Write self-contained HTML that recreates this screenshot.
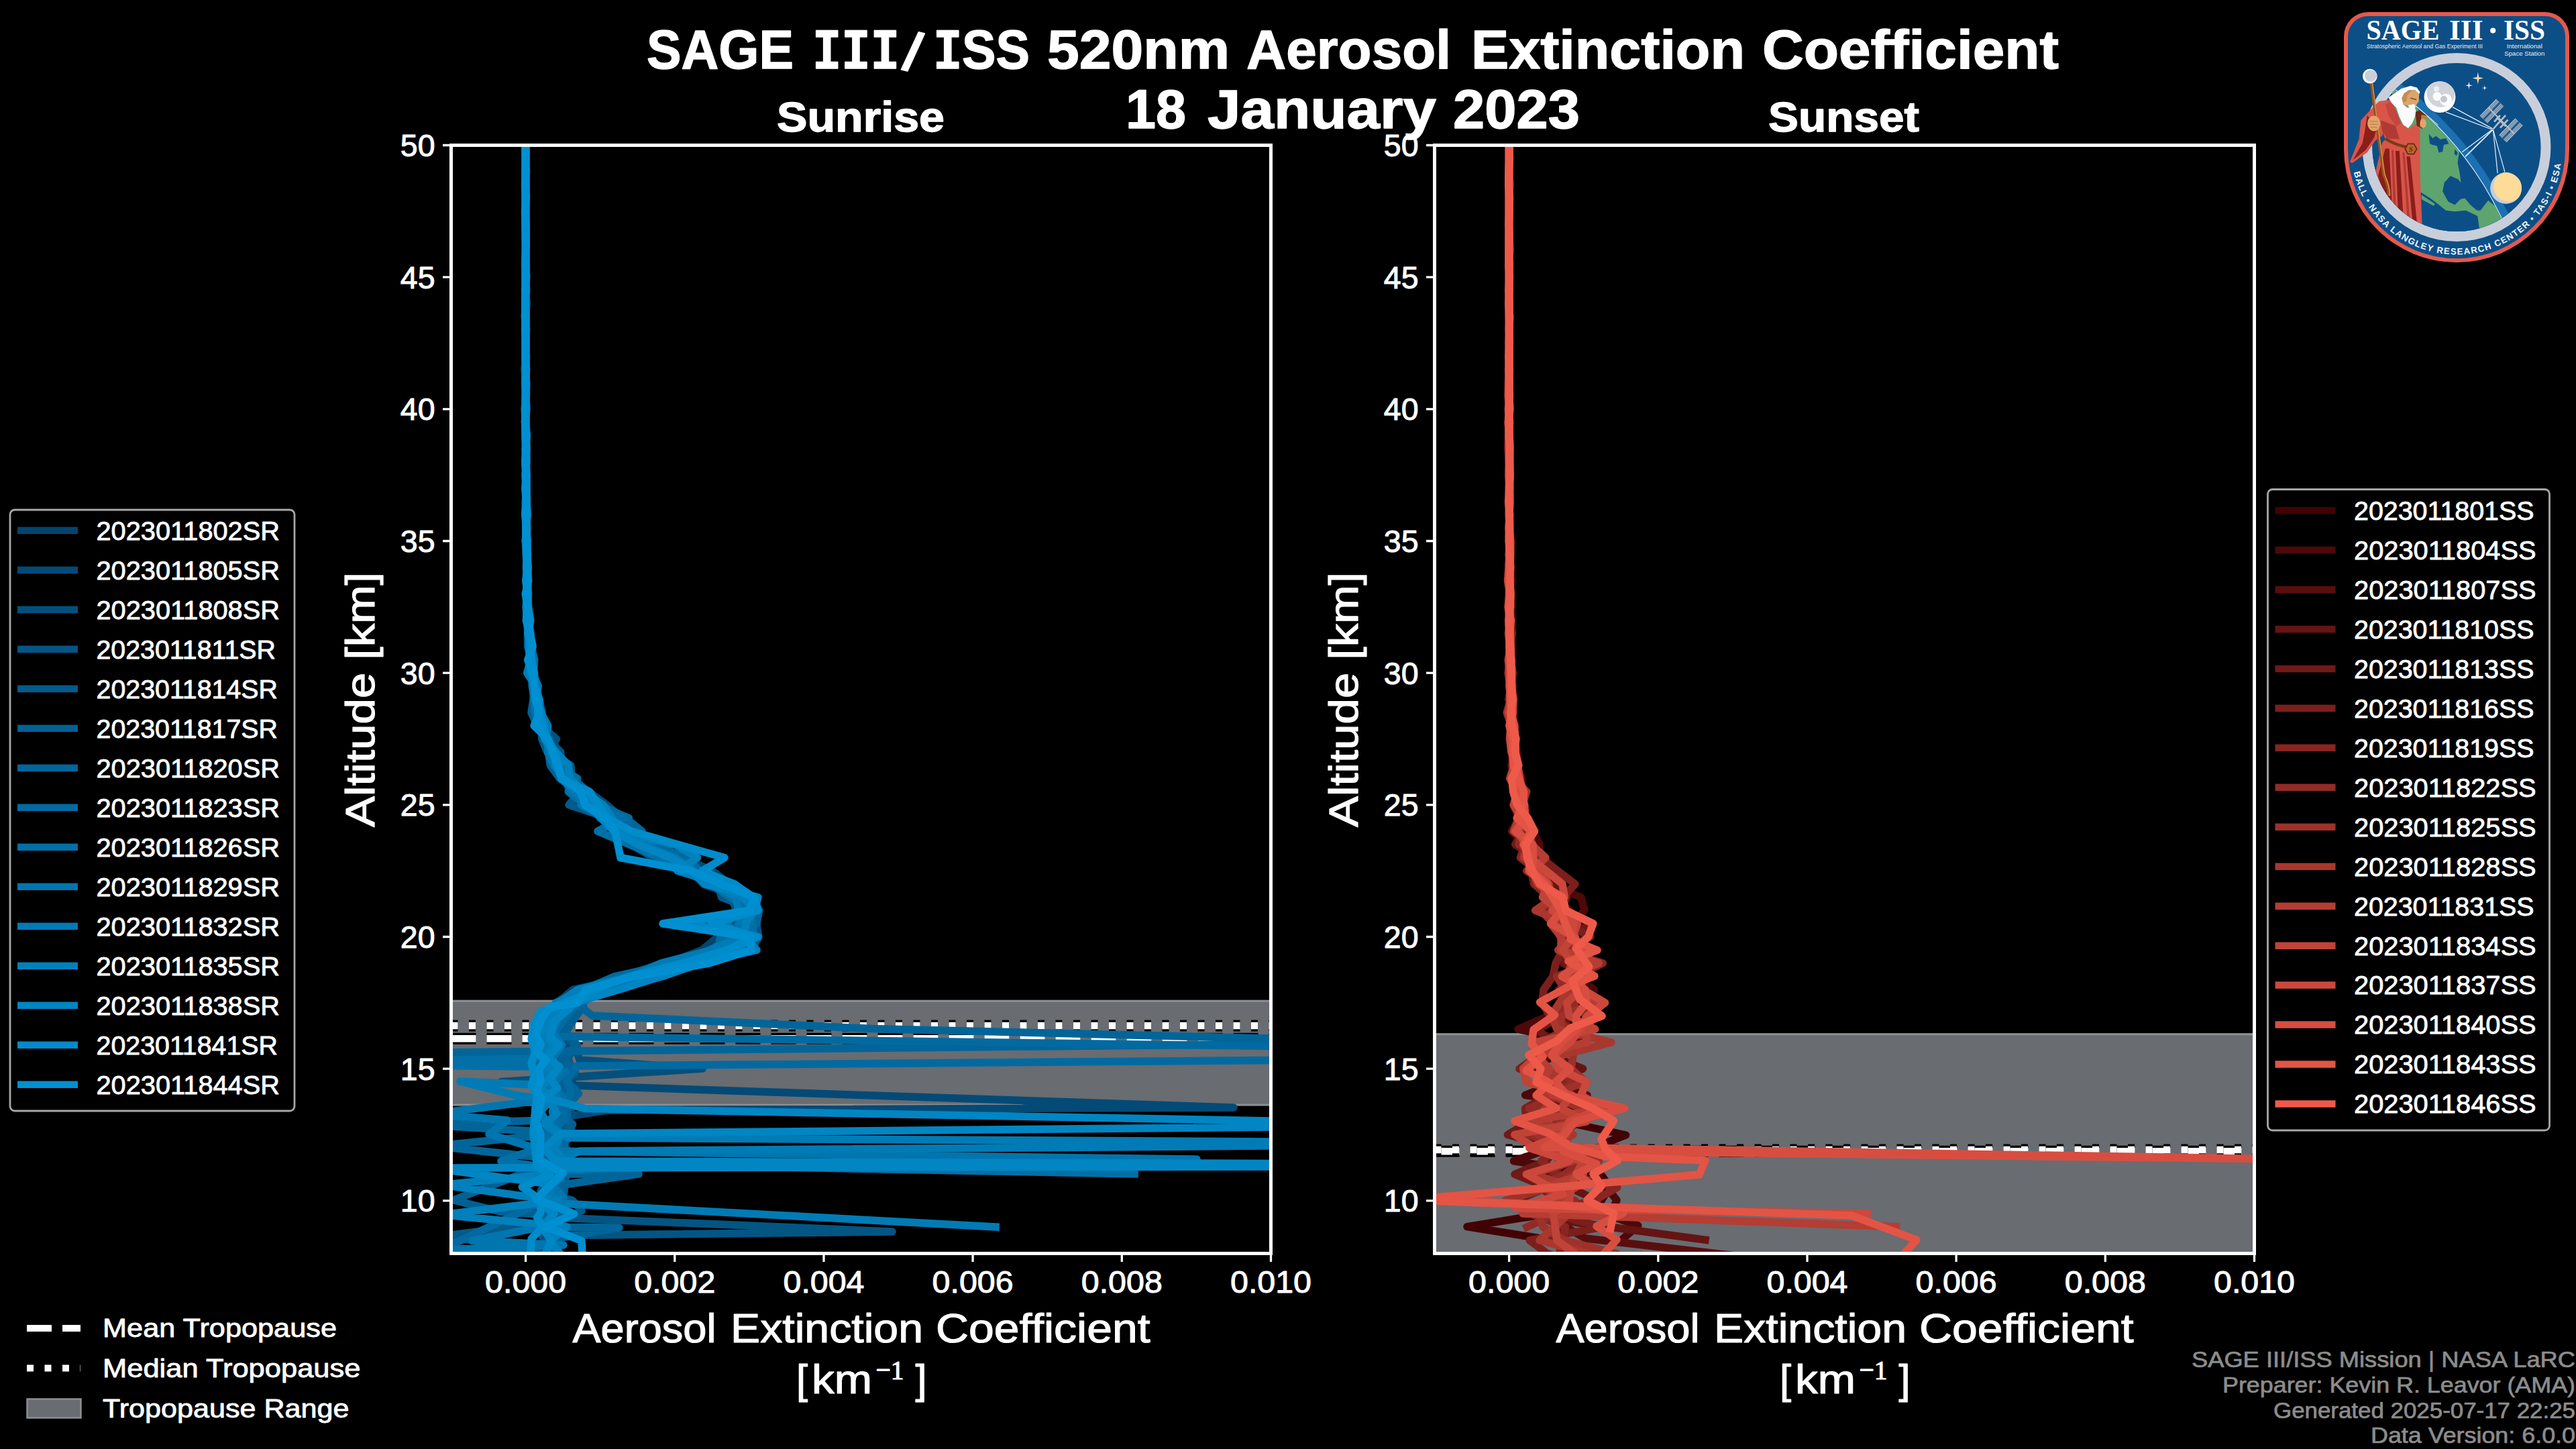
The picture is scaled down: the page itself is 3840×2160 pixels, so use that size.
<!DOCTYPE html>
<html lang="en"><head><meta charset="utf-8"><title>SAGE III/ISS 520nm Aerosol Extinction Coefficient</title>
<style>html,body{margin:0;padding:0;background:#000;overflow:hidden}svg{display:block}</style></head><body>
<svg width="3840" height="2160" viewBox="0 0 3840 2160" font-family='"Liberation Sans", sans-serif' fill="#fff">
<rect width="3840" height="2160" fill="#000"/>
<defs>
<clipPath id="cl"><rect x="672.5" y="216.5" width="1222.0" height="1652.0"/></clipPath>
<clipPath id="cr"><rect x="2138.5" y="216.5" width="1222.0" height="1652.0"/></clipPath>
</defs>
<g clip-path="url(#cl)">
<rect x="667.5" y="1492.1" width="1232.0" height="155.0" fill="#696c71" stroke="#8d8f93" stroke-width="3"/>
<path d="M672.5 1548.3H1894.5" stroke="#000" stroke-width="17" stroke-dasharray="37 16" fill="none"/>
<path d="M672.5 1548.3H1894.5" stroke="#fff" stroke-width="10.5" stroke-dasharray="37 16" fill="none"/>
<path d="M672.5 1529.1H1894.5" stroke="#000" stroke-width="17" stroke-dasharray="10 16.5" fill="none"/>
<path d="M672.5 1529.1H1894.5" stroke="#fff" stroke-width="10.5" stroke-dasharray="10 16.5" fill="none"/>
<path d="M783.5 196.8 L783.5 216.5 L783.3 236.2 L783.5 255.8 L784.0 275.5 L783.8 295.2 L784.0 314.8 L783.7 334.5 L783.8 354.2 L783.7 373.8 L782.8 393.5 L784.0 413.2 L783.8 432.8 L783.8 452.5 L782.7 472.2 L782.6 491.8 L783.1 511.5 L783.3 531.2 L783.8 550.8 L783.6 570.5 L783.9 590.2 L783.2 609.8 L783.9 629.5 L784.1 649.2 L783.5 668.8 L785.2 688.5 L784.5 708.2 L785.1 727.8 L783.9 747.5 L783.9 767.2 L784.3 786.8 L784.6 806.5 L785.6 826.2 L785.6 845.8 L785.4 865.5 L785.1 885.2 L785.9 904.8 L788.7 924.5 L787.5 944.2 L790.7 963.8 L792.7 983.5 L790.2 1003.2 L796.4 1022.8 L803.1 1042.5 L795.3 1062.2 L805.6 1081.8 L813.3 1101.5 L817.9 1121.2 L837.0 1140.8 L844.7 1160.5 L847.9 1180.2 L889.4 1199.8 L911.4 1219.5 L940.8 1239.2 L981.7 1258.8 L998.3 1278.5 L1031.0 1298.2 L1048.4 1317.8 L1100.7 1337.5 L1100.1 1357.2 L1094.3 1376.8 L1070.2 1396.5 L1046.6 1416.2 L995.1 1435.8 L947.8 1455.5 L854.6 1475.2 L830.3 1494.8 L844.0 1500.0 L835.3 1519.0 L834.8 1539.0 L854.2 1558.0 L840.5 1578.0 L843.8 1598.0 L829.2 1617.0 L851.0 1637.0 L830.1 1657.0 L841.8 1676.0 L836.9 1696.0 L842.6 1716.0" stroke="#04456f" stroke-width="11.5" fill="none" stroke-linejoin="round" stroke-linecap="square"/>
<path d="M783.7 196.8 L782.9 216.5 L782.7 236.2 L783.7 255.8 L783.3 275.5 L783.1 295.2 L784.0 314.8 L784.1 334.5 L783.7 354.2 L783.7 373.8 L783.8 393.5 L784.4 413.2 L783.9 432.8 L783.9 452.5 L783.9 472.2 L782.7 491.8 L784.3 511.5 L784.1 531.2 L783.9 550.8 L782.4 570.5 L783.2 590.2 L784.2 609.8 L782.6 629.5 L783.7 649.2 L784.7 668.8 L783.2 688.5 L785.3 708.2 L784.7 727.8 L784.3 747.5 L784.8 767.2 L785.1 786.8 L785.0 806.5 L786.2 826.2 L785.1 845.8 L785.6 865.5 L787.5 885.2 L786.8 904.8 L786.6 924.5 L790.8 944.2 L793.4 963.8 L791.9 983.5 L791.8 1003.2 L797.4 1022.8 L800.7 1042.5 L803.9 1062.2 L816.6 1081.8 L812.7 1101.5 L835.6 1121.2 L830.0 1140.8 L847.0 1160.5 L877.6 1180.2 L904.7 1199.8 L927.0 1219.5 L949.7 1239.2 L980.6 1258.8 L1017.1 1278.5 L1062.1 1298.2 L1087.5 1317.8 L1118.0 1337.5 L1125.9 1357.2 L1112.4 1376.8 L1105.7 1396.5 L1064.4 1416.2 L1016.5 1435.8 L924.8 1455.5 L865.6 1475.2 L837.2 1494.8 L848.8 1500.0 L837.8 1519.0 L839.5 1539.0 L848.5 1558.0 L842.3 1578.0 L855.1 1600.0 L852.0 1618.0 L1839.0 1651.0 L904.6 1655.0 L846.8 1664.0 L851.5 1684.0 L841.8 1703.0 L826.0 1723.0 L810.0 1742.0 L822.0 1762.0 L806.0 1782.0" stroke="#044a76" stroke-width="11.5" fill="none" stroke-linejoin="round" stroke-linecap="square"/>
<path d="M783.5 196.8 L783.7 216.5 L784.3 236.2 L782.6 255.8 L783.2 275.5 L783.7 295.2 L783.8 314.8 L783.7 334.5 L783.4 354.2 L783.9 373.8 L783.7 393.5 L783.3 413.2 L784.8 432.8 L783.8 452.5 L783.3 472.2 L783.5 491.8 L783.5 511.5 L783.6 531.2 L782.0 550.8 L783.3 570.5 L784.2 590.2 L782.9 609.8 L783.7 629.5 L784.5 649.2 L784.5 668.8 L785.1 688.5 L783.0 708.2 L784.0 727.8 L784.1 747.5 L784.9 767.2 L785.4 786.8 L782.7 806.5 L786.0 826.2 L784.3 845.8 L786.5 865.5 L784.6 885.2 L786.8 904.8 L788.9 924.5 L788.7 944.2 L790.8 963.8 L793.7 983.5 L794.4 1003.2 L796.5 1022.8 L804.3 1042.5 L807.5 1062.2 L806.7 1081.8 L829.5 1101.5 L817.5 1121.2 L841.8 1140.8 L845.5 1160.5 L866.3 1180.2 L891.7 1199.8 L909.9 1219.5 L941.8 1239.2 L941.5 1258.8 L973.4 1278.5 L1046.1 1298.2 L1060.6 1317.8 L1089.7 1337.5 L1098.0 1357.2 L1118.2 1376.8 L1100.2 1396.5 L1079.1 1416.2 L987.8 1435.8 L929.0 1455.5 L863.1 1475.2 L849.8 1494.8 L851.9 1500.0 L837.7 1519.0 L833.7 1539.0 L856.8 1558.0 L864.1 1580.0 L1047.0 1593.0 L747.0 1612.5 L860.0 1622.0 L844.9 1642.0 L853.0 1661.0 L839.5 1681.0 L845.1 1700.0 L808.0 1720.0 L820.0 1740.0 L806.0 1759.0 L818.0 1779.0 L800.0 1799.0 L812.0 1818.0" stroke="#03507d" stroke-width="11.5" fill="none" stroke-linejoin="round" stroke-linecap="square"/>
<path d="M784.1 196.8 L783.9 216.5 L783.5 236.2 L782.8 255.8 L784.1 275.5 L783.6 295.2 L783.3 314.8 L783.8 334.5 L783.8 354.2 L784.3 373.8 L783.1 393.5 L784.1 413.2 L784.3 432.8 L784.3 452.5 L783.5 472.2 L783.2 491.8 L784.2 511.5 L783.7 531.2 L783.7 550.8 L784.4 570.5 L783.4 590.2 L782.2 609.8 L783.5 629.5 L782.6 649.2 L784.5 668.8 L784.3 688.5 L783.7 708.2 L784.3 727.8 L785.0 747.5 L784.6 767.2 L785.6 786.8 L784.7 806.5 L786.0 826.2 L786.7 845.8 L787.4 865.5 L785.6 885.2 L787.7 904.8 L784.8 924.5 L787.4 944.2 L787.5 963.8 L794.4 983.5 L791.4 1003.2 L797.0 1022.8 L799.5 1042.5 L803.9 1062.2 L805.8 1081.8 L816.9 1101.5 L835.8 1121.2 L836.6 1140.8 L853.3 1160.5 L876.5 1180.2 L883.8 1199.8 L894.4 1219.5 L928.3 1239.2 L986.5 1258.8 L976.6 1278.5 L1035.0 1298.2 L1095.3 1317.8 L1121.5 1337.5 L1132.0 1357.2 L1127.6 1376.8 L1131.0 1396.5 L1120.0 1416.2 L995.8 1435.8 L932.3 1455.5 L893.2 1475.2 L842.2 1494.8 L856.0 1500.0 L841.4 1519.0 L842.7 1539.0 L860.6 1558.0 L835.3 1578.0 L847.7 1598.0 L832.7 1617.0 L851.7 1637.0 L831.3 1657.0 L845.6 1676.0 L827.7 1696.0 L842.2 1716.0 L808.0 1735.0 L820.0 1755.0 L806.0 1775.0 L818.0 1794.0 L804.0 1814.0 L1330.0 1836.0 L808.0 1842.0 L816.0 1860.0" stroke="#035584" stroke-width="11.5" fill="none" stroke-linejoin="round" stroke-linecap="square"/>
<path d="M783.1 196.8 L783.5 216.5 L783.2 236.2 L783.7 255.8 L782.7 275.5 L783.7 295.2 L783.3 314.8 L782.7 334.5 L783.9 354.2 L783.5 373.8 L782.5 393.5 L783.2 413.2 L783.7 432.8 L783.4 452.5 L784.0 472.2 L784.0 491.8 L784.0 511.5 L783.8 531.2 L784.4 550.8 L784.0 570.5 L783.9 590.2 L782.3 609.8 L784.3 629.5 L784.7 649.2 L783.7 668.8 L783.7 688.5 L785.5 708.2 L783.0 727.8 L784.7 747.5 L786.3 767.2 L783.9 786.8 L785.2 806.5 L786.5 826.2 L785.3 845.8 L786.3 865.5 L787.1 885.2 L785.4 904.8 L786.7 924.5 L788.7 944.2 L791.3 963.8 L791.5 983.5 L792.8 1003.2 L793.1 1022.8 L797.5 1042.5 L805.6 1062.2 L806.6 1081.8 L807.8 1101.5 L815.8 1121.2 L850.8 1140.8 L852.1 1160.5 L865.3 1180.2 L848.1 1199.8 L907.2 1219.5 L929.7 1239.2 L980.7 1258.8 L994.7 1278.5 L1024.1 1298.2 L1070.2 1317.8 L1075.6 1337.5 L1124.7 1357.2 L1116.3 1376.8 L1093.3 1396.5 L1099.2 1416.2 L1054.9 1435.8 L939.2 1455.5 L887.9 1475.2 L856.7 1494.8 L860.7 1500.0 L845.7 1519.0 L841.4 1539.0 L856.8 1558.0 L846.7 1578.0 L854.0 1598.0 L840.9 1617.0 L852.1 1637.0 L839.7 1657.0 L847.9 1676.0 L825.8 1696.0 L848.1 1716.0 L840.0 1785.0 L854.0 1790.0 L867.0 1805.0 L836.0 1820.0 L672.0 1841.0 L640.0 1843.0 L672.0 1846.0 L810.0 1856.0" stroke="#035a8b" stroke-width="11.5" fill="none" stroke-linejoin="round" stroke-linecap="square"/>
<path d="M783.7 196.8 L784.3 216.5 L784.0 236.2 L783.1 255.8 L783.1 275.5 L784.3 295.2 L784.0 314.8 L784.4 334.5 L784.0 354.2 L783.2 373.8 L783.7 393.5 L782.5 413.2 L783.2 432.8 L783.6 452.5 L783.9 472.2 L783.2 491.8 L783.5 511.5 L783.9 531.2 L783.8 550.8 L784.0 570.5 L783.7 590.2 L783.4 609.8 L784.2 629.5 L783.8 649.2 L783.3 668.8 L783.6 688.5 L784.1 708.2 L784.1 727.8 L784.4 747.5 L784.4 767.2 L784.7 786.8 L784.6 806.5 L784.0 826.2 L785.7 845.8 L786.7 865.5 L786.5 885.2 L786.2 904.8 L787.4 924.5 L786.7 944.2 L786.7 963.8 L791.5 983.5 L790.9 1003.2 L797.5 1022.8 L795.0 1042.5 L792.0 1062.2 L800.9 1081.8 L819.8 1101.5 L817.5 1121.2 L820.3 1140.8 L834.6 1160.5 L862.2 1180.2 L879.9 1199.8 L898.8 1219.5 L940.7 1239.2 L961.6 1258.8 L982.8 1278.5 L1029.0 1298.2 L1079.6 1317.8 L1102.6 1337.5 L1120.8 1357.2 L1098.9 1376.8 L1099.1 1396.5 L1091.1 1416.2 L1030.3 1435.8 L976.5 1455.5 L906.0 1475.2 L865.0 1494.8 L869.5 1500.0 L855.8 1519.0 L843.3 1539.0 L860.1 1558.0 L838.0 1578.0 L857.5 1598.0 L838.4 1617.0 L848.9 1637.0 L830.3 1657.0 L853.7 1676.0 L839.4 1696.0 L842.6 1716.0 L816.0 1735.0 L676.0 1789.0 L745.0 1806.0 L830.0 1812.0 L816.0 1832.0 L828.0 1851.0 L812.0 1870.0" stroke="#036092" stroke-width="11.5" fill="none" stroke-linejoin="round" stroke-linecap="square"/>
<path d="M784.0 196.8 L783.5 216.5 L783.6 236.2 L784.6 255.8 L783.5 275.5 L783.9 295.2 L784.0 314.8 L783.6 334.5 L783.1 354.2 L783.7 373.8 L783.8 393.5 L784.1 413.2 L784.0 432.8 L783.6 452.5 L784.0 472.2 L783.9 491.8 L783.7 511.5 L783.6 531.2 L783.4 550.8 L784.0 570.5 L782.9 590.2 L783.2 609.8 L783.7 629.5 L782.9 649.2 L783.7 668.8 L782.7 688.5 L783.7 708.2 L784.7 727.8 L784.8 747.5 L784.5 767.2 L784.5 786.8 L783.7 806.5 L786.6 826.2 L786.0 845.8 L787.0 865.5 L785.4 885.2 L786.5 904.8 L785.0 924.5 L790.3 944.2 L792.4 963.8 L788.9 983.5 L794.5 1003.2 L799.1 1022.8 L795.3 1042.5 L797.8 1062.2 L804.6 1081.8 L813.5 1101.5 L818.1 1121.2 L838.2 1140.8 L853.3 1160.5 L875.6 1180.2 L897.0 1199.8 L932.6 1219.5 L957.2 1239.2 L954.8 1258.8 L1002.3 1278.5 L1034.9 1298.2 L1075.2 1317.8 L1118.0 1337.5 L1130.0 1357.2 L1128.1 1376.8 L1087.6 1396.5 L1060.3 1416.2 L1013.0 1435.8 L935.4 1455.5 L877.9 1475.2 L846.0 1494.8 L864.8 1500.0 L882.9 1514.0 L1300.0 1533.5 L2135.0 1554.0 L540.0 1570.0 L859.0 1590.0 L842.7 1610.0 L862.4 1630.0 L845.7 1649.0 L845.7 1669.0 L672.0 1674.0 L620.0 1676.0 L672.0 1679.0 L840.6 1689.0 L672.0 1706.0 L620.0 1708.0 L672.0 1711.0 L830.0 1728.0 L781.0 1750.0 L952.0 1750.0 L840.0 1766.0 L824.0 1786.0 L836.0 1806.0 L792.0 1829.0 L923.0 1830.0 L830.0 1846.0 L826.0 1870.0" stroke="#026599" stroke-width="11.5" fill="none" stroke-linejoin="round" stroke-linecap="square"/>
<path d="M783.3 196.8 L783.6 216.5 L783.3 236.2 L783.5 255.8 L782.5 275.5 L783.2 295.2 L783.6 314.8 L782.9 334.5 L783.7 354.2 L783.7 373.8 L782.9 393.5 L783.5 413.2 L783.4 432.8 L783.8 452.5 L783.9 472.2 L783.6 491.8 L783.1 511.5 L783.5 531.2 L783.6 550.8 L784.0 570.5 L783.8 590.2 L783.2 609.8 L782.9 629.5 L783.6 649.2 L783.5 668.8 L783.3 688.5 L784.1 708.2 L783.9 727.8 L784.5 747.5 L784.9 767.2 L784.3 786.8 L786.6 806.5 L784.9 826.2 L786.4 845.8 L786.0 865.5 L787.5 885.2 L783.8 904.8 L786.6 924.5 L789.5 944.2 L791.7 963.8 L796.9 983.5 L795.2 1003.2 L800.6 1022.8 L802.7 1042.5 L807.7 1062.2 L811.4 1081.8 L815.8 1101.5 L829.2 1121.2 L829.1 1140.8 L860.7 1160.5 L857.9 1180.2 L890.5 1199.8 L937.3 1219.5 L935.0 1239.2 L970.5 1258.8 L1024.7 1278.5 L1042.8 1298.2 L1066.8 1317.8 L1104.6 1337.5 L1112.9 1357.2 L1107.5 1376.8 L1073.9 1396.5 L1070.0 1416.2 L1005.1 1435.8 L916.4 1455.5 L870.4 1475.2 L834.8 1494.8 L856.9 1500.0 L842.5 1519.0 L823.1 1545.0 L1900.0 1559.5 L1990.0 1570.0 L1900.0 1580.5 L860.5 1589.0 L844.7 1608.0 L851.0 1628.0 L838.9 1647.0 L842.6 1667.0 L823.8 1686.0 L842.1 1706.0 L814.0 1726.0 L826.0 1745.0 L810.0 1765.0 L822.0 1785.0 L672.0 1856.0 L640.0 1858.0 L700.0 1862.0 L820.0 1870.0" stroke="#026aa0" stroke-width="11.5" fill="none" stroke-linejoin="round" stroke-linecap="square"/>
<path d="M783.8 196.8 L783.4 216.5 L783.3 236.2 L783.9 255.8 L784.1 275.5 L783.6 295.2 L783.3 314.8 L783.9 334.5 L783.6 354.2 L783.7 373.8 L784.3 393.5 L784.1 413.2 L783.3 432.8 L784.8 452.5 L783.6 472.2 L784.0 491.8 L783.2 511.5 L783.6 531.2 L782.6 550.8 L784.7 570.5 L784.4 590.2 L782.8 609.8 L782.7 629.5 L782.7 649.2 L784.7 668.8 L783.7 688.5 L784.1 708.2 L784.0 727.8 L784.2 747.5 L783.6 767.2 L784.6 786.8 L783.5 806.5 L784.8 826.2 L785.5 845.8 L786.1 865.5 L785.8 885.2 L785.3 904.8 L787.0 924.5 L787.1 944.2 L792.0 963.8 L792.7 983.5 L792.6 1003.2 L793.8 1022.8 L795.8 1042.5 L797.7 1062.2 L803.6 1081.8 L812.1 1101.5 L821.5 1121.2 L832.6 1140.8 L857.5 1160.5 L847.4 1180.2 L872.3 1199.8 L928.1 1219.5 L891.0 1239.2 L938.0 1258.8 L982.4 1278.5 L1018.3 1298.2 L1060.3 1317.8 L1088.5 1337.5 L1119.1 1357.2 L1121.5 1376.8 L1122.5 1396.5 L1070.8 1416.2 L1044.1 1435.8 L988.2 1455.5 L907.5 1475.2 L859.8 1494.8 L842.5 1500.0 L824.4 1519.0 L818.1 1539.0 L831.9 1558.0 L810.5 1578.0 L400.0 1585.5 L793.1 1590.0 L843.0 1597.0 L822.4 1617.0 L840.1 1637.0 L823.4 1657.0 L829.1 1676.0 L814.1 1696.0 L798.8 1713.0 L747.0 1731.0 L812.0 1740.0 L900.0 1735.0 L1691.0 1750.0" stroke="#0270a7" stroke-width="11.5" fill="none" stroke-linejoin="round" stroke-linecap="square"/>
<path d="M783.8 196.8 L783.9 216.5 L783.7 236.2 L783.8 255.8 L783.5 275.5 L783.0 295.2 L783.6 314.8 L783.8 334.5 L783.4 354.2 L783.5 373.8 L783.9 393.5 L783.2 413.2 L783.9 432.8 L784.6 452.5 L783.3 472.2 L783.7 491.8 L783.5 511.5 L784.5 531.2 L783.8 550.8 L784.1 570.5 L783.2 590.2 L783.6 609.8 L783.7 629.5 L782.7 649.2 L784.9 668.8 L784.7 688.5 L782.9 708.2 L784.8 727.8 L784.3 747.5 L784.8 767.2 L784.9 786.8 L783.6 806.5 L784.9 826.2 L786.6 845.8 L785.3 865.5 L785.1 885.2 L784.9 904.8 L785.4 924.5 L789.2 944.2 L793.0 963.8 L792.7 983.5 L794.2 1003.2 L802.3 1022.8 L797.6 1042.5 L800.4 1062.2 L809.5 1081.8 L816.8 1101.5 L816.7 1121.2 L825.1 1140.8 L847.7 1160.5 L864.9 1180.2 L866.2 1199.8 L901.2 1219.5 L920.6 1239.2 L967.7 1258.8 L991.6 1278.5 L1030.1 1298.2 L1063.8 1317.8 L1110.1 1337.5 L1124.2 1357.2 L1101.5 1376.8 L1104.3 1396.5 L1057.4 1416.2 L1011.3 1435.8 L946.9 1455.5 L897.5 1475.2 L842.2 1494.8 L851.3 1500.0 L831.6 1519.0 L823.7 1539.0 L837.7 1558.0 L823.6 1578.0 L832.4 1598.0 L819.5 1617.0 L830.9 1637.0 L672.0 1657.0 L620.0 1660.0 L672.0 1663.0 L756.0 1670.0 L729.0 1690.7 L792.7 1710.0 L823.9 1716.0 L1784.0 1728.0 L1000.0 1737.0 L830.0 1745.0 L822.0 1765.0 L840.0 1785.0 L818.0 1804.0 L830.0 1824.0 L704.0 1849.5 L840.0 1856.0 L640.0 1864.0 L820.0 1872.0" stroke="#0175ae" stroke-width="11.5" fill="none" stroke-linejoin="round" stroke-linecap="square"/>
<path d="M783.1 196.8 L783.6 216.5 L783.3 236.2 L783.7 255.8 L783.1 275.5 L782.8 295.2 L783.6 314.8 L783.7 334.5 L783.3 354.2 L784.0 373.8 L783.5 393.5 L783.3 413.2 L783.8 432.8 L782.8 452.5 L783.2 472.2 L783.6 491.8 L784.1 511.5 L783.5 531.2 L783.8 550.8 L783.2 570.5 L783.8 590.2 L784.7 609.8 L783.3 629.5 L785.4 649.2 L783.5 668.8 L784.0 688.5 L784.3 708.2 L785.0 727.8 L783.4 747.5 L782.9 767.2 L785.0 786.8 L785.3 806.5 L785.6 826.2 L787.5 845.8 L786.0 865.5 L786.4 885.2 L787.6 904.8 L787.6 924.5 L791.1 944.2 L788.2 963.8 L791.0 983.5 L785.7 1003.2 L798.3 1022.8 L797.9 1042.5 L806.2 1062.2 L816.6 1081.8 L813.6 1101.5 L820.9 1121.2 L829.3 1140.8 L837.6 1160.5 L855.4 1180.2 L886.5 1199.8 L902.4 1219.5 L927.3 1239.2 L955.1 1258.8 L1005.9 1278.5 L1034.3 1298.2 L1060.6 1317.8 L1097.8 1337.5 L1100.3 1357.2 L1082.6 1376.8 L1101.5 1396.5 L1060.9 1416.2 L985.6 1435.8 L942.2 1455.5 L878.9 1475.2 L828.2 1494.8 L831.6 1500.0 L814.1 1519.0 L809.7 1539.0 L814.1 1558.0 L807.0 1578.0 L817.0 1598.0 L798.2 1617.0 L686.0 1612.0 L770.0 1633.0 L820.4 1640.0 L805.6 1657.0 L816.7 1676.0 L845.5 1696.0 L1900.0 1702.0 L1950.0 1705.0 L1900.0 1708.0 L863.6 1716.0 L822.0 1735.0 L836.0 1755.0 L815.0 1775.0 L835.0 1794.0 L1484.0 1829.0" stroke="#017bb5" stroke-width="11.5" fill="none" stroke-linejoin="round" stroke-linecap="square"/>
<path d="M784.2 196.8 L783.7 216.5 L783.5 236.2 L783.0 255.8 L784.0 275.5 L783.6 295.2 L783.5 314.8 L783.7 334.5 L783.6 354.2 L783.9 373.8 L783.4 393.5 L783.6 413.2 L782.5 432.8 L783.4 452.5 L784.0 472.2 L784.3 491.8 L783.4 511.5 L783.5 531.2 L784.5 550.8 L783.4 570.5 L784.0 590.2 L784.7 609.8 L783.8 629.5 L784.7 649.2 L783.5 668.8 L784.2 688.5 L784.1 708.2 L784.4 727.8 L785.2 747.5 L786.3 767.2 L784.1 786.8 L784.4 806.5 L785.5 826.2 L784.7 845.8 L786.3 865.5 L786.8 885.2 L786.3 904.8 L788.1 924.5 L786.7 944.2 L791.8 963.8 L789.2 983.5 L792.6 1003.2 L795.5 1022.8 L798.8 1042.5 L807.0 1062.2 L808.9 1081.8 L813.7 1101.5 L828.4 1121.2 L847.4 1140.8 L849.0 1160.5 L869.8 1180.2 L899.2 1199.8 L912.2 1219.5 L917.3 1239.2 L1006.2 1258.8 L1039.5 1278.5 L1010.0 1298.2 L1075.2 1317.8 L1107.1 1337.5 L1125.0 1357.2 L1111.4 1376.8 L1110.0 1396.5 L1128.0 1416.2 L1040.0 1435.8 L938.7 1455.5 L861.3 1475.2 L832.5 1494.8 L838.0 1500.0 L818.0 1520.0 L812.0 1540.0 L826.0 1560.0 L810.0 1580.0 L824.0 1600.0 L808.0 1620.0 L818.0 1640.0 L830.0 1660.0 L812.0 1676.0 L836.0 1692.0 L826.0 1712.0 L842.0 1731.0 L814.0 1751.0 L672.0 1765.0 L600.0 1766.0 L672.0 1768.0 L830.0 1790.0 L672.0 1809.4 L600.0 1810.0 L672.0 1812.0 L845.0 1829.0 L820.0 1850.0 L836.0 1870.0" stroke="#0180bc" stroke-width="11.5" fill="none" stroke-linejoin="round" stroke-linecap="square"/>
<path d="M783.5 196.8 L783.4 216.5 L783.8 236.2 L783.3 255.8 L783.2 275.5 L783.4 295.2 L783.6 314.8 L783.3 334.5 L783.6 354.2 L783.9 373.8 L784.2 393.5 L784.4 413.2 L783.2 432.8 L783.4 452.5 L782.3 472.2 L784.6 491.8 L783.2 511.5 L783.6 531.2 L783.9 550.8 L782.8 570.5 L783.9 590.2 L783.6 609.8 L782.5 629.5 L784.0 649.2 L784.7 668.8 L782.7 688.5 L784.7 708.2 L784.4 727.8 L784.7 747.5 L784.8 767.2 L785.6 786.8 L784.5 806.5 L785.7 826.2 L785.0 845.8 L786.4 865.5 L785.3 885.2 L786.4 904.8 L789.2 924.5 L788.9 944.2 L789.6 963.8 L789.4 983.5 L791.5 1003.2 L796.3 1022.8 L801.4 1042.5 L803.8 1062.2 L808.6 1081.8 L812.0 1101.5 L828.7 1121.2 L828.4 1140.8 L837.9 1160.5 L867.4 1180.2 L877.5 1199.8 L895.9 1219.5 L915.5 1239.2 L950.8 1258.8 L999.3 1278.5 L1031.9 1298.2 L1050.4 1317.8 L1130.0 1337.5 L1124.8 1357.2 L1020.0 1376.8 L1130.0 1396.5 L1091.0 1416.2 L1043.3 1435.8 L985.2 1455.5 L922.6 1475.2 L856.1 1494.8 L847.5 1504.8 L826.8 1521.4 L819.9 1546.3 L833.7 1557.3 L817.1 1576.6 L833.7 1590.4 L819.9 1608.4 L830.9 1622.2 L813.0 1636.0 L872.3 1652.6 L1900.0 1671.0 L2000.0 1676.0 L1900.0 1680.0 L835.0 1690.0 L812.0 1712.0 L828.0 1731.0 L1900.0 1734.5 L1960.0 1737.0 L1900.0 1739.0 L672.0 1741.0 L600.0 1741.0 L672.0 1745.0 L820.0 1765.0 L800.0 1790.0 L826.0 1809.0 L808.0 1829.0 L822.0 1850.0 L812.0 1870.0" stroke="#0185c3" stroke-width="11.5" fill="none" stroke-linejoin="round" stroke-linecap="square"/>
<path d="M783.7 196.8 L783.4 216.5 L784.0 236.2 L783.3 255.8 L783.9 275.5 L784.5 295.2 L782.5 314.8 L783.4 334.5 L783.8 354.2 L783.5 373.8 L783.3 393.5 L784.6 413.2 L783.6 432.8 L782.7 452.5 L784.0 472.2 L782.6 491.8 L784.2 511.5 L783.3 531.2 L783.7 550.8 L784.4 570.5 L783.7 590.2 L782.7 609.8 L782.6 629.5 L784.6 649.2 L784.5 668.8 L783.5 688.5 L784.8 708.2 L784.7 727.8 L784.9 747.5 L782.8 767.2 L784.4 786.8 L785.5 806.5 L785.8 826.2 L786.3 845.8 L783.7 865.5 L786.5 885.2 L787.3 904.8 L790.8 924.5 L787.7 944.2 L790.3 963.8 L792.6 983.5 L796.5 1003.2 L796.1 1022.8 L803.8 1042.5 L801.4 1062.2 L810.2 1081.8 L813.6 1101.5 L826.9 1121.2 L832.3 1140.8 L836.6 1160.5 L879.1 1180.2 L891.3 1199.8 L905.5 1219.5 L941.9 1239.2 L1010.0 1258.8 L1080.0 1278.5 L1046.9 1298.2 L1094.3 1317.8 L1123.5 1337.5 L1130.0 1357.2 L1060.0 1376.8 L1125.0 1396.5 L1083.3 1416.2 L1017.3 1435.8 L937.4 1455.5 L886.2 1475.2 L843.7 1494.8 L806.0 1507.6 L796.4 1525.6 L792.2 1549.0 L797.8 1568.3 L792.2 1585.0 L796.4 1604.2 L792.2 1618.0 L800.5 1631.8 L797.8 1652.6 L795.0 1689.0 L800.5 1739.0 L819.9 1751.4 L778.4 1769.4 L806.0 1788.7 L806.0 1808.0 L800.5 1815.0 L808.8 1828.8 L792.2 1846.7 L790.9 1870.0" stroke="#008bca" stroke-width="11.5" fill="none" stroke-linejoin="round" stroke-linecap="square"/>
<path d="M783.4 196.8 L783.4 216.5 L783.2 236.2 L783.8 255.8 L783.1 275.5 L783.9 295.2 L783.2 314.8 L783.7 334.5 L784.2 354.2 L783.7 373.8 L783.2 393.5 L783.6 413.2 L783.7 432.8 L782.7 452.5 L783.3 472.2 L783.7 491.8 L783.3 511.5 L783.6 531.2 L784.0 550.8 L784.1 570.5 L784.1 590.2 L784.0 609.8 L783.5 629.5 L783.8 649.2 L783.7 668.8 L783.8 688.5 L784.0 708.2 L783.0 727.8 L784.1 747.5 L784.4 767.2 L783.8 786.8 L784.7 806.5 L785.4 826.2 L785.3 845.8 L787.7 865.5 L783.3 885.2 L786.2 904.8 L784.4 924.5 L789.8 944.2 L794.2 963.8 L786.8 983.5 L793.6 1003.2 L797.3 1022.8 L797.8 1042.5 L804.5 1062.2 L796.2 1081.8 L817.0 1101.5 L823.3 1121.2 L832.0 1140.8 L837.8 1160.5 L865.9 1180.2 L871.9 1199.8 L903.0 1219.5 L916.7 1239.2 L921.0 1258.8 L925.0 1278.5 L1029.7 1298.2 L1075.0 1317.8 L1125.0 1337.5 L1116.7 1357.2 L988.0 1376.8 L1118.0 1396.5 L1120.0 1416.2 L1057.4 1435.8 L945.2 1455.5 L873.6 1475.2 L861.5 1494.8 L820.0 1500.7 L806.0 1521.4 L799.0 1542.0 L806.0 1557.0 L800.5 1570.0 L814.0 1579.5 L803.0 1594.6 L806.0 1611.0 L800.5 1625.0 L807.4 1638.7 L803.3 1659.5 L799.0 1672.0 L806.0 1690.7 L804.7 1729.4 L839.2 1748.7 L799.1 1787.3 L855.7 1809.4 L813.0 1828.8 L866.8 1849.5 L868.2 1870.0" stroke="#0090d1" stroke-width="11.5" fill="none" stroke-linejoin="round" stroke-linecap="square"/>
</g>
<rect x="672.5" y="216.5" width="1222.0" height="1652.0" fill="none" stroke="#fff" stroke-width="5"/>
<path d="M670.0 1789.8h-10M670.0 1593.2h-10M670.0 1396.5h-10M670.0 1199.8h-10M670.0 1003.2h-10M670.0 806.5h-10M670.0 609.8h-10M670.0 413.2h-10M670.0 216.5h-10M783.6 1871.0v10M1005.8 1871.0v10M1228.0 1871.0v10M1450.1 1871.0v10M1672.3 1871.0v10M1894.5 1871.0v10" stroke="#fff" stroke-width="3.3" fill="none"/>
<g font-size="46.5" stroke="#fff" stroke-width="1" stroke-linejoin="round">
<text x="648.5" y="1806.1" text-anchor="end">10</text>
<text x="648.5" y="1609.5" text-anchor="end">15</text>
<text x="648.5" y="1412.8" text-anchor="end">20</text>
<text x="648.5" y="1216.1" text-anchor="end">25</text>
<text x="648.5" y="1019.5" text-anchor="end">30</text>
<text x="648.5" y="822.8" text-anchor="end">35</text>
<text x="648.5" y="626.1" text-anchor="end">40</text>
<text x="648.5" y="429.5" text-anchor="end">45</text>
<text x="648.5" y="232.8" text-anchor="end">50</text>
<text x="783.6" y="1926.8" text-anchor="middle" textLength="121" lengthAdjust="spacingAndGlyphs">0.000</text>
<text x="1005.8" y="1926.8" text-anchor="middle" textLength="121" lengthAdjust="spacingAndGlyphs">0.002</text>
<text x="1228.0" y="1926.8" text-anchor="middle" textLength="121" lengthAdjust="spacingAndGlyphs">0.004</text>
<text x="1450.1" y="1926.8" text-anchor="middle" textLength="121" lengthAdjust="spacingAndGlyphs">0.006</text>
<text x="1672.3" y="1926.8" text-anchor="middle" textLength="121" lengthAdjust="spacingAndGlyphs">0.008</text>
<text x="1894.5" y="1926.8" text-anchor="middle" textLength="121" lengthAdjust="spacingAndGlyphs">0.010</text>
</g>
<g stroke="#fff" stroke-width="1.2" stroke-linejoin="round">
<text transform="translate(558.0 1233) rotate(-90)" font-size="61.5" textLength="380" lengthAdjust="spacingAndGlyphs">Altitude [km]</text>
<text x="853.5" y="2001.3" font-size="61.5" textLength="214.0" lengthAdjust="spacingAndGlyphs">Aerosol</text>
<text x="1089.0" y="2001.3" font-size="61.5" textLength="287.0" lengthAdjust="spacingAndGlyphs">Extinction</text>
<text x="1395.0" y="2001.3" font-size="61.5" textLength="319.5" lengthAdjust="spacingAndGlyphs">Coefficient</text>
<text y="2077" font-size="61.5"><tspan x="1187.0">[</tspan><tspan x="1210.0" textLength="90" lengthAdjust="spacingAndGlyphs">km</tspan><tspan x="1305.5" y="2056" font-size="41" font-family='"Liberation Serif", serif' textLength="42" lengthAdjust="spacingAndGlyphs">−1</tspan><tspan x="1364.5" y="2077">]</tspan></text>
</g>
<g clip-path="url(#cr)">
<rect x="2133.5" y="1541.6" width="1232.0" height="641.5" fill="#696c71" stroke="#8d8f93" stroke-width="3"/>
<path d="M2138.5 1716.3H3360.5" stroke="#000" stroke-width="17" stroke-dasharray="37 16" fill="none"/>
<path d="M2138.5 1716.3H3360.5" stroke="#fff" stroke-width="10.5" stroke-dasharray="37 16" fill="none"/>
<path d="M2138.5 1713.9H3360.5" stroke="#000" stroke-width="17" stroke-dasharray="10 16.5" fill="none"/>
<path d="M2138.5 1713.9H3360.5" stroke="#fff" stroke-width="10.5" stroke-dasharray="10 16.5" fill="none"/>
<path d="M2249.9 196.8 L2249.4 216.5 L2249.1 236.2 L2249.6 255.8 L2249.8 275.5 L2250.0 295.2 L2249.1 314.8 L2249.0 334.5 L2249.9 354.2 L2249.8 373.8 L2250.3 393.5 L2250.1 413.2 L2249.5 432.8 L2249.4 452.5 L2251.0 472.2 L2249.4 491.8 L2249.2 511.5 L2248.9 531.2 L2249.6 550.8 L2249.7 570.5 L2249.4 590.2 L2249.6 609.8 L2249.8 629.5 L2250.2 649.2 L2250.5 668.8 L2250.0 688.5 L2248.7 708.2 L2250.5 727.8 L2249.0 747.5 L2250.0 767.2 L2249.1 786.8 L2250.3 806.5 L2249.8 826.2 L2250.6 845.8 L2253.5 865.5 L2250.5 885.2 L2251.6 904.8 L2249.1 924.5 L2250.6 944.2 L2252.2 963.8 L2251.4 983.5 L2252.5 1003.2 L2252.7 1022.8 L2251.1 1042.5 L2255.2 1062.2 L2252.5 1081.8 L2260.6 1101.5 L2256.1 1121.2 L2262.4 1140.8 L2262.1 1160.5 L2269.3 1180.2 L2263.1 1199.8 L2277.6 1219.5 L2273.6 1239.2 L2291.6 1258.8 L2292.4 1278.5 L2297.8 1298.2 L2297.5 1317.8 L2330.2 1337.5 L2334.2 1357.2 L2356.7 1376.8 L2331.2 1396.5 L2348.5 1416.2 L2347.9 1435.8 L2338.1 1455.5 L2330.4 1475.2 L2326.4 1494.8 L2305.6 1514.5 L2290.8 1534.2 L2300.3 1553.8 L2320.8 1573.5 L2348.5 1593.2 L2337.5 1612.8 L2340.6 1632.5 L2332.8 1652.2 L2330.5 1671.8 L2350.0 1676.0 L2423.6 1692.0 L2393.0 1704.0 L2372.0 1730.0 L2400.0 1770.0 L2380.0 1800.0 L2265.0 1816.0 L2187.0 1828.6 L2290.0 1845.0" stroke="#420205" stroke-width="11.5" fill="none" stroke-linejoin="round" stroke-linecap="square"/>
<path d="M2249.2 196.8 L2249.7 216.5 L2249.9 236.2 L2249.6 255.8 L2249.2 275.5 L2249.5 295.2 L2249.7 314.8 L2250.1 334.5 L2249.9 354.2 L2249.6 373.8 L2250.2 393.5 L2249.2 413.2 L2250.0 432.8 L2250.2 452.5 L2249.4 472.2 L2248.6 491.8 L2249.1 511.5 L2249.7 531.2 L2249.9 550.8 L2250.5 570.5 L2249.0 590.2 L2249.7 609.8 L2250.1 629.5 L2249.7 649.2 L2248.3 668.8 L2250.5 688.5 L2251.7 708.2 L2250.8 727.8 L2249.5 747.5 L2250.0 767.2 L2250.5 786.8 L2252.3 806.5 L2251.0 826.2 L2250.7 845.8 L2252.0 865.5 L2250.6 885.2 L2252.8 904.8 L2250.2 924.5 L2250.7 944.2 L2252.7 963.8 L2254.1 983.5 L2253.7 1003.2 L2253.9 1022.8 L2250.3 1042.5 L2253.2 1062.2 L2254.0 1081.8 L2256.2 1101.5 L2261.8 1121.2 L2261.3 1140.8 L2268.5 1160.5 L2267.8 1180.2 L2269.3 1199.8 L2276.4 1219.5 L2284.7 1239.2 L2295.1 1258.8 L2292.6 1278.5 L2305.8 1298.2 L2308.1 1317.8 L2356.7 1337.5 L2361.9 1357.2 L2344.7 1376.8 L2343.6 1396.5 L2334.1 1416.2 L2350.6 1435.8 L2344.9 1455.5 L2376.5 1475.2 L2334.8 1494.8 L2307.8 1514.5 L2263.1 1534.2 L2349.5 1553.8 L2319.7 1573.5 L2274.3 1593.2 L2324.3 1612.8 L2273.6 1632.5 L2417.2 1652.2 L2349.5 1671.8 L2332.9 1691.5 L2313.1 1711.2 L2256.6 1730.8 L2380.0 1750.0 L2395.0 1770.0 L2410.0 1789.0 L2400.0 1812.0 L2441.8 1827.0 L2420.0 1846.0" stroke="#4d080a" stroke-width="11.5" fill="none" stroke-linejoin="round" stroke-linecap="square"/>
<path d="M2249.1 196.8 L2249.9 216.5 L2249.9 236.2 L2249.2 255.8 L2249.3 275.5 L2249.3 295.2 L2249.1 314.8 L2249.3 334.5 L2250.2 354.2 L2249.9 373.8 L2250.6 393.5 L2249.5 413.2 L2249.5 432.8 L2249.1 452.5 L2249.5 472.2 L2248.9 491.8 L2248.6 511.5 L2250.0 531.2 L2250.4 550.8 L2250.1 570.5 L2250.4 590.2 L2249.8 609.8 L2249.1 629.5 L2249.7 649.2 L2249.5 668.8 L2249.1 688.5 L2248.7 708.2 L2248.9 727.8 L2250.0 747.5 L2250.2 767.2 L2249.8 786.8 L2251.4 806.5 L2250.5 826.2 L2250.9 845.8 L2251.6 865.5 L2249.8 885.2 L2248.5 904.8 L2251.6 924.5 L2249.9 944.2 L2253.0 963.8 L2251.9 983.5 L2253.3 1003.2 L2253.5 1022.8 L2248.5 1042.5 L2255.2 1062.2 L2252.6 1081.8 L2252.9 1101.5 L2254.7 1121.2 L2261.3 1140.8 L2264.8 1160.5 L2268.5 1180.2 L2255.6 1199.8 L2264.1 1219.5 L2253.4 1239.2 L2276.0 1258.8 L2288.9 1278.5 L2281.4 1298.2 L2303.5 1317.8 L2313.5 1337.5 L2339.6 1357.2 L2321.0 1376.8 L2326.1 1396.5 L2331.8 1416.2 L2377.3 1435.8 L2366.9 1455.5 L2338.5 1475.2 L2341.8 1494.8 L2335.5 1514.5 L2333.4 1534.2 L2318.6 1553.8 L2310.3 1573.5 L2280.1 1593.2 L2299.2 1612.8 L2365.9 1632.5 L2335.0 1652.2 L2321.0 1671.8 L2312.0 1691.5 L2319.1 1711.2 L2328.0 1730.8 L2300.5 1750.5 L2328.9 1770.2 L2327.8 1789.8 L2300.0 1809.0 L2363.0 1846.0 L2700.0 1885.0" stroke="#590e0e" stroke-width="11.5" fill="none" stroke-linejoin="round" stroke-linecap="square"/>
<path d="M2249.5 196.8 L2249.4 216.5 L2249.4 236.2 L2249.6 255.8 L2250.0 275.5 L2249.6 295.2 L2249.5 314.8 L2249.3 334.5 L2249.5 354.2 L2250.0 373.8 L2249.4 393.5 L2249.0 413.2 L2249.0 432.8 L2249.0 452.5 L2248.9 472.2 L2250.2 491.8 L2249.8 511.5 L2249.5 531.2 L2250.5 550.8 L2249.2 570.5 L2250.1 590.2 L2250.1 609.8 L2248.6 629.5 L2248.7 649.2 L2249.1 668.8 L2250.5 688.5 L2250.8 708.2 L2249.1 727.8 L2250.8 747.5 L2249.9 767.2 L2249.9 786.8 L2249.9 806.5 L2250.1 826.2 L2249.0 845.8 L2249.6 865.5 L2249.4 885.2 L2251.2 904.8 L2253.3 924.5 L2254.5 944.2 L2250.8 963.8 L2248.9 983.5 L2251.2 1003.2 L2250.6 1022.8 L2257.1 1042.5 L2255.1 1062.2 L2252.6 1081.8 L2257.8 1101.5 L2258.2 1121.2 L2252.9 1140.8 L2259.0 1160.5 L2262.6 1180.2 L2266.4 1199.8 L2270.3 1219.5 L2270.9 1239.2 L2280.3 1258.8 L2278.8 1278.5 L2282.7 1298.2 L2321.7 1317.8 L2319.8 1337.5 L2336.8 1357.2 L2313.5 1376.8 L2340.6 1396.5 L2361.7 1416.2 L2330.0 1435.8 L2370.0 1455.5 L2336.4 1475.2 L2348.3 1494.8 L2332.7 1514.5 L2336.1 1534.2 L2355.5 1553.8 L2310.6 1573.5 L2359.6 1593.2 L2298.7 1612.8 L2296.9 1632.5 L2342.6 1652.2 L2290.6 1671.8 L2309.7 1691.5 L2346.7 1711.2 L2357.0 1730.8 L2268.3 1750.5 L2340.1 1770.2 L2381.6 1789.8 L2320.0 1810.0 L2332.0 1820.0 L2542.0 1848.3" stroke="#641413" stroke-width="11.5" fill="none" stroke-linejoin="round" stroke-linecap="square"/>
<path d="M2249.5 196.8 L2250.0 216.5 L2249.5 236.2 L2249.0 255.8 L2250.0 275.5 L2249.2 295.2 L2249.4 314.8 L2249.5 334.5 L2249.4 354.2 L2249.1 373.8 L2249.5 393.5 L2250.7 413.2 L2249.3 432.8 L2249.5 452.5 L2250.2 472.2 L2250.0 491.8 L2250.0 511.5 L2250.1 531.2 L2248.4 550.8 L2249.1 570.5 L2249.7 590.2 L2249.9 609.8 L2250.5 629.5 L2250.0 649.2 L2249.6 668.8 L2249.9 688.5 L2249.7 708.2 L2250.1 727.8 L2250.5 747.5 L2249.8 767.2 L2249.5 786.8 L2249.5 806.5 L2251.1 826.2 L2251.3 845.8 L2251.3 865.5 L2251.3 885.2 L2251.4 904.8 L2250.6 924.5 L2251.6 944.2 L2249.5 963.8 L2251.0 983.5 L2250.3 1003.2 L2253.4 1022.8 L2251.4 1042.5 L2253.0 1062.2 L2254.8 1081.8 L2258.1 1101.5 L2253.7 1121.2 L2254.5 1140.8 L2263.7 1160.5 L2256.2 1180.2 L2266.7 1199.8 L2263.1 1219.5 L2269.7 1239.2 L2258.7 1258.8 L2287.2 1278.5 L2282.6 1298.2 L2286.2 1317.8 L2335.4 1337.5 L2328.0 1357.2 L2374.7 1376.8 L2334.2 1396.5 L2325.5 1416.2 L2335.9 1435.8 L2358.5 1455.5 L2323.7 1475.2 L2330.2 1494.8 L2328.7 1514.5 L2292.3 1534.2 L2312.5 1553.8 L2292.4 1573.5 L2271.4 1593.2 L2331.4 1612.8 L2327.3 1632.5 L2310.2 1652.2 L2281.2 1671.8 L2247.5 1691.5 L2320.3 1711.2 L2304.6 1730.8 L2258.0 1750.5 L2307.1 1770.2 L2258.0 1789.8 L2309.4 1809.5 L2320.1 1829.2 L2329.7 1848.8" stroke="#701917" stroke-width="11.5" fill="none" stroke-linejoin="round" stroke-linecap="square"/>
<path d="M2249.2 196.8 L2249.5 216.5 L2249.4 236.2 L2249.5 255.8 L2249.7 275.5 L2249.8 295.2 L2250.3 314.8 L2248.5 334.5 L2249.8 354.2 L2249.5 373.8 L2250.7 393.5 L2250.0 413.2 L2248.8 432.8 L2249.8 452.5 L2249.3 472.2 L2250.1 491.8 L2249.0 511.5 L2249.5 531.2 L2249.5 550.8 L2249.5 570.5 L2249.2 590.2 L2248.5 609.8 L2250.0 629.5 L2250.4 649.2 L2249.8 668.8 L2249.2 688.5 L2250.1 708.2 L2250.4 727.8 L2249.9 747.5 L2250.1 767.2 L2251.3 786.8 L2249.4 806.5 L2249.9 826.2 L2248.9 845.8 L2249.8 865.5 L2249.8 885.2 L2249.5 904.8 L2249.9 924.5 L2253.4 944.2 L2251.0 963.8 L2251.3 983.5 L2255.5 1003.2 L2252.5 1022.8 L2249.6 1042.5 L2254.7 1062.2 L2252.0 1081.8 L2260.6 1101.5 L2254.3 1121.2 L2257.8 1140.8 L2254.8 1160.5 L2264.5 1180.2 L2261.0 1199.8 L2270.1 1219.5 L2272.2 1239.2 L2274.6 1258.8 L2297.6 1278.5 L2322.0 1298.2 L2348.0 1317.8 L2330.0 1337.5 L2310.1 1357.2 L2334.3 1376.8 L2371.0 1396.5 L2329.6 1416.2 L2319.1 1435.8 L2315.0 1455.5 L2301.1 1475.2 L2298.7 1494.8 L2310.4 1514.5 L2344.1 1534.2 L2306.6 1553.8 L2293.1 1573.5 L2265.0 1593.2 L2315.6 1612.8 L2308.4 1632.5 L2273.5 1652.2 L2276.1 1671.8 L2305.3 1691.5 L2338.7 1711.2 L2329.9 1730.8 L2315.8 1750.5 L2296.7 1770.2 L2320.6 1789.8 L2314.9 1809.5 L2389.4 1829.2 L2280.2 1848.8 L2306.1 1868.5 L2361.8 1888.2" stroke="#7b1f1c" stroke-width="11.5" fill="none" stroke-linejoin="round" stroke-linecap="square"/>
<path d="M2249.5 196.8 L2249.6 216.5 L2249.5 236.2 L2249.1 255.8 L2249.2 275.5 L2250.5 295.2 L2249.9 314.8 L2249.9 334.5 L2250.0 354.2 L2249.9 373.8 L2250.1 393.5 L2249.5 413.2 L2249.5 432.8 L2250.1 452.5 L2249.4 472.2 L2248.9 491.8 L2249.5 511.5 L2249.3 531.2 L2250.0 550.8 L2249.2 570.5 L2248.9 590.2 L2249.4 609.8 L2250.6 629.5 L2249.6 649.2 L2249.8 668.8 L2249.8 688.5 L2250.1 708.2 L2250.6 727.8 L2251.0 747.5 L2248.9 767.2 L2251.2 786.8 L2250.2 806.5 L2250.0 826.2 L2252.3 845.8 L2250.3 865.5 L2252.5 885.2 L2251.6 904.8 L2249.4 924.5 L2251.4 944.2 L2252.0 963.8 L2251.1 983.5 L2247.9 1003.2 L2251.2 1022.8 L2252.1 1042.5 L2250.7 1062.2 L2258.5 1081.8 L2253.9 1101.5 L2254.1 1121.2 L2256.4 1140.8 L2256.3 1160.5 L2258.0 1180.2 L2264.9 1199.8 L2268.8 1219.5 L2266.5 1239.2 L2273.8 1258.8 L2266.4 1278.5 L2291.7 1298.2 L2287.2 1317.8 L2308.2 1337.5 L2307.9 1357.2 L2322.9 1376.8 L2340.2 1396.5 L2323.6 1416.2 L2389.3 1435.8 L2348.8 1455.5 L2343.1 1475.2 L2325.6 1494.8 L2371.7 1514.5 L2364.6 1534.2 L2334.8 1553.8 L2287.4 1573.5 L2304.1 1593.2 L2335.8 1612.8 L2307.0 1632.5 L2288.0 1652.2 L2286.5 1671.8 L2297.3 1691.5 L2319.2 1711.2 L2297.7 1730.8 L2320.6 1750.5 L2410.6 1770.2 L2376.3 1789.8 L2282.9 1809.5 L2333.4 1829.2 L2330.5 1848.8 L2324.2 1868.5" stroke="#872521" stroke-width="11.5" fill="none" stroke-linejoin="round" stroke-linecap="square"/>
<path d="M2250.0 196.8 L2249.5 216.5 L2249.6 236.2 L2250.1 255.8 L2249.9 275.5 L2249.0 295.2 L2249.4 314.8 L2249.2 334.5 L2250.0 354.2 L2249.7 373.8 L2250.0 393.5 L2249.6 413.2 L2248.6 432.8 L2249.8 452.5 L2249.7 472.2 L2249.9 491.8 L2248.9 511.5 L2249.6 531.2 L2249.2 550.8 L2249.2 570.5 L2249.8 590.2 L2249.8 609.8 L2249.1 629.5 L2248.6 649.2 L2248.1 668.8 L2249.4 688.5 L2250.7 708.2 L2249.9 727.8 L2248.4 747.5 L2249.4 767.2 L2250.5 786.8 L2251.5 806.5 L2251.2 826.2 L2250.6 845.8 L2250.6 865.5 L2249.4 885.2 L2250.0 904.8 L2250.2 924.5 L2249.8 944.2 L2251.1 963.8 L2250.7 983.5 L2252.1 1003.2 L2254.7 1022.8 L2254.2 1042.5 L2254.2 1062.2 L2253.2 1081.8 L2250.3 1101.5 L2255.8 1121.2 L2260.2 1140.8 L2255.6 1160.5 L2268.7 1180.2 L2262.1 1199.8 L2269.9 1219.5 L2268.2 1239.2 L2264.1 1258.8 L2301.1 1278.5 L2275.7 1298.2 L2308.5 1317.8 L2302.5 1337.5 L2324.5 1357.2 L2314.5 1376.8 L2325.8 1396.5 L2351.4 1416.2 L2373.2 1435.8 L2320.8 1455.5 L2332.2 1475.2 L2347.9 1494.8 L2310.7 1514.5 L2336.9 1534.2 L2296.8 1553.8 L2327.2 1573.5 L2322.8 1593.2 L2346.5 1612.8 L2324.5 1632.5 L2279.5 1652.2 L2332.0 1671.8 L2279.2 1691.5 L2333.0 1711.2 L2357.9 1730.8 L2332.5 1750.5 L2295.1 1770.2 L2347.8 1789.8 L2318.0 1809.5 L2276.2 1829.2" stroke="#922b25" stroke-width="11.5" fill="none" stroke-linejoin="round" stroke-linecap="square"/>
<path d="M2249.5 196.8 L2249.6 216.5 L2249.5 236.2 L2249.0 255.8 L2249.4 275.5 L2249.7 295.2 L2249.7 314.8 L2249.5 334.5 L2248.6 354.2 L2250.2 373.8 L2249.9 393.5 L2250.1 413.2 L2250.2 432.8 L2249.4 452.5 L2249.3 472.2 L2249.8 491.8 L2250.5 511.5 L2248.6 531.2 L2249.5 550.8 L2249.2 570.5 L2249.9 590.2 L2250.5 609.8 L2249.4 629.5 L2248.8 649.2 L2249.8 668.8 L2249.6 688.5 L2248.8 708.2 L2250.6 727.8 L2249.6 747.5 L2250.6 767.2 L2249.2 786.8 L2251.1 806.5 L2249.2 826.2 L2251.2 845.8 L2248.8 865.5 L2251.9 885.2 L2250.2 904.8 L2248.8 924.5 L2250.4 944.2 L2251.5 963.8 L2249.8 983.5 L2250.8 1003.2 L2252.4 1022.8 L2252.2 1042.5 L2246.2 1062.2 L2252.9 1081.8 L2255.8 1101.5 L2256.3 1121.2 L2261.5 1140.8 L2256.9 1160.5 L2275.7 1180.2 L2269.3 1199.8 L2269.1 1219.5 L2279.6 1239.2 L2283.6 1258.8 L2281.7 1278.5 L2279.8 1298.2 L2309.2 1317.8 L2312.5 1337.5 L2296.3 1357.2 L2316.3 1376.8 L2346.8 1396.5 L2348.1 1416.2 L2355.6 1435.8 L2364.7 1455.5 L2351.4 1475.2 L2377.5 1494.8 L2327.4 1514.5 L2326.6 1534.2 L2338.8 1553.8 L2345.1 1573.5 L2342.1 1593.2 L2363.1 1612.8 L2311.3 1632.5 L2358.0 1652.2 L2337.3 1671.8 L2291.9 1691.5 L2317.1 1711.2 L2383.5 1730.8 L2346.5 1750.5 L2309.3 1770.2 L2244.0 1789.8 L2294.1 1809.5 L2300.0 1829.2 L2331.0 1848.8 L2407.7 1868.5" stroke="#9e312a" stroke-width="11.5" fill="none" stroke-linejoin="round" stroke-linecap="square"/>
<path d="M2249.9 196.8 L2249.2 216.5 L2249.5 236.2 L2249.4 255.8 L2250.8 275.5 L2249.4 295.2 L2249.3 314.8 L2250.1 334.5 L2249.6 354.2 L2249.0 373.8 L2250.2 393.5 L2249.4 413.2 L2248.9 432.8 L2249.8 452.5 L2249.9 472.2 L2249.4 491.8 L2250.0 511.5 L2250.1 531.2 L2249.1 550.8 L2248.4 570.5 L2248.1 590.2 L2249.5 609.8 L2250.4 629.5 L2250.3 649.2 L2250.7 668.8 L2251.1 688.5 L2249.9 708.2 L2250.7 727.8 L2248.9 747.5 L2250.6 767.2 L2250.5 786.8 L2250.1 806.5 L2249.9 826.2 L2249.5 845.8 L2250.5 865.5 L2251.8 885.2 L2250.2 904.8 L2251.3 924.5 L2249.9 944.2 L2251.4 963.8 L2249.8 983.5 L2252.2 1003.2 L2251.6 1022.8 L2253.3 1042.5 L2251.9 1062.2 L2250.9 1081.8 L2253.7 1101.5 L2258.9 1121.2 L2263.9 1140.8 L2258.6 1160.5 L2266.4 1180.2 L2268.9 1199.8 L2269.9 1219.5 L2258.5 1239.2 L2278.2 1258.8 L2271.0 1278.5 L2300.7 1298.2 L2306.8 1317.8 L2317.0 1337.5 L2288.6 1357.2 L2340.0 1376.8 L2348.4 1396.5 L2322.7 1416.2 L2364.5 1435.8 L2348.8 1455.5 L2339.8 1475.2 L2324.7 1494.8 L2313.0 1514.5 L2320.9 1534.2 L2401.8 1553.8 L2326.6 1573.5 L2323.6 1593.2 L2302.3 1612.8 L2305.0 1632.5 L2305.6 1652.2 L2294.6 1671.8 L2345.0 1691.5 L2309.7 1711.2 L2344.0 1730.8 L2283.8 1750.5 L2348.8 1770.2 L2315.4 1789.8 L2337.8 1809.5 L2317.5 1829.2 L2295.0 1848.8 L2365.8 1868.5 L2309.8 1888.2" stroke="#a9372e" stroke-width="11.5" fill="none" stroke-linejoin="round" stroke-linecap="square"/>
<path d="M2249.7 196.8 L2249.5 216.5 L2249.7 236.2 L2249.7 255.8 L2249.3 275.5 L2249.0 295.2 L2249.8 314.8 L2250.0 334.5 L2249.9 354.2 L2249.1 373.8 L2249.9 393.5 L2249.8 413.2 L2249.7 432.8 L2249.8 452.5 L2249.4 472.2 L2249.7 491.8 L2250.1 511.5 L2249.3 531.2 L2248.7 550.8 L2249.5 570.5 L2249.7 590.2 L2248.4 609.8 L2249.2 629.5 L2250.1 649.2 L2249.7 668.8 L2249.9 688.5 L2249.0 708.2 L2250.6 727.8 L2251.3 747.5 L2249.9 767.2 L2249.6 786.8 L2249.3 806.5 L2251.0 826.2 L2250.4 845.8 L2249.7 865.5 L2251.7 885.2 L2251.4 904.8 L2251.3 924.5 L2248.5 944.2 L2250.9 963.8 L2252.3 983.5 L2249.6 1003.2 L2253.8 1022.8 L2255.7 1042.5 L2255.7 1062.2 L2252.1 1081.8 L2252.6 1101.5 L2258.9 1121.2 L2261.9 1140.8 L2265.8 1160.5 L2268.7 1180.2 L2263.9 1199.8 L2264.6 1219.5 L2256.4 1239.2 L2282.9 1258.8 L2303.9 1278.5 L2283.6 1298.2 L2292.5 1317.8 L2319.3 1337.5 L2330.0 1357.2 L2311.5 1376.8 L2327.5 1396.5 L2326.5 1416.2 L2383.4 1435.8 L2334.3 1455.5 L2360.3 1475.2 L2379.5 1494.8 L2377.2 1514.5 L2364.1 1534.2 L2366.1 1553.8 L2289.6 1573.5 L2309.7 1593.2 L2301.1 1612.8 L2314.6 1632.5 L2396.4 1652.2 L2271.9 1671.8 L2335.8 1691.5 L2280.8 1711.2 L2359.0 1730.8 L2360.3 1750.5 L2302.8 1770.2 L2340.0 1789.0 L2270.0 1809.0 L2826.5 1828.6" stroke="#b53d33" stroke-width="11.5" fill="none" stroke-linejoin="round" stroke-linecap="square"/>
<path d="M2249.8 196.8 L2249.6 216.5 L2250.5 236.2 L2249.5 255.8 L2249.4 275.5 L2249.3 295.2 L2249.3 314.8 L2249.0 334.5 L2249.1 354.2 L2250.0 373.8 L2249.6 393.5 L2249.5 413.2 L2249.8 432.8 L2250.1 452.5 L2249.9 472.2 L2250.0 491.8 L2249.3 511.5 L2249.4 531.2 L2249.1 550.8 L2249.5 570.5 L2249.1 590.2 L2249.4 609.8 L2249.5 629.5 L2249.6 649.2 L2249.6 668.8 L2249.5 688.5 L2250.8 708.2 L2249.7 727.8 L2249.3 747.5 L2250.2 767.2 L2249.3 786.8 L2249.4 806.5 L2250.3 826.2 L2249.0 845.8 L2247.5 865.5 L2250.7 885.2 L2251.7 904.8 L2248.6 924.5 L2249.6 944.2 L2251.9 963.8 L2248.3 983.5 L2250.2 1003.2 L2249.9 1022.8 L2252.3 1042.5 L2248.8 1062.2 L2256.2 1081.8 L2254.1 1101.5 L2257.3 1121.2 L2257.1 1140.8 L2250.8 1160.5 L2261.6 1180.2 L2256.3 1199.8 L2267.8 1219.5 L2264.4 1239.2 L2273.2 1258.8 L2278.9 1278.5 L2298.1 1298.2 L2307.7 1317.8 L2299.5 1337.5 L2322.9 1357.2 L2351.4 1376.8 L2344.3 1396.5 L2329.7 1416.2 L2343.3 1435.8 L2335.8 1455.5 L2357.2 1475.2 L2335.6 1494.8 L2339.1 1514.5 L2377.8 1534.2 L2288.0 1553.8 L2291.1 1573.5 L2270.5 1593.2 L2275.3 1612.8 L2343.6 1632.5 L2326.8 1652.2 L2364.8 1671.8 L2257.8 1691.5 L2288.3 1711.2 L2360.0 1730.8 L2349.5 1750.5 L2342.5 1770.2 L2339.1 1789.8 L2315.7 1809.5 L2318.4 1829.2 L2320.8 1848.8 L2348.0 1868.5 L2313.8 1888.2" stroke="#c04338" stroke-width="11.5" fill="none" stroke-linejoin="round" stroke-linecap="square"/>
<path d="M2249.7 196.8 L2249.3 216.5 L2249.8 236.2 L2249.5 255.8 L2249.5 275.5 L2250.4 295.2 L2249.8 314.8 L2249.4 334.5 L2250.1 354.2 L2250.8 373.8 L2249.1 393.5 L2249.3 413.2 L2249.6 432.8 L2249.3 452.5 L2250.7 472.2 L2249.9 491.8 L2249.4 511.5 L2249.9 531.2 L2249.1 550.8 L2249.2 570.5 L2249.7 590.2 L2251.1 609.8 L2248.2 629.5 L2250.0 649.2 L2250.7 668.8 L2250.3 688.5 L2251.2 708.2 L2250.3 727.8 L2250.2 747.5 L2250.0 767.2 L2249.5 786.8 L2251.5 806.5 L2249.4 826.2 L2250.3 845.8 L2250.0 865.5 L2249.8 885.2 L2248.2 904.8 L2250.3 924.5 L2251.0 944.2 L2251.3 963.8 L2252.7 983.5 L2251.5 1003.2 L2250.9 1022.8 L2253.4 1042.5 L2255.0 1062.2 L2251.9 1081.8 L2250.7 1101.5 L2252.9 1121.2 L2262.3 1140.8 L2265.2 1160.5 L2258.4 1180.2 L2266.1 1199.8 L2274.0 1219.5 L2282.9 1239.2 L2270.8 1258.8 L2280.2 1278.5 L2305.0 1298.2 L2329.0 1317.8 L2332.3 1337.5 L2313.8 1357.2 L2346.3 1376.8 L2343.3 1396.5 L2354.6 1416.2 L2350.0 1435.8 L2354.5 1455.5 L2359.4 1475.2 L2392.6 1494.8 L2365.8 1514.5 L2355.4 1534.2 L2340.7 1553.8 L2315.2 1573.5 L2322.9 1593.2 L2365.4 1612.8 L2356.7 1632.5 L2388.8 1652.2 L2339.1 1671.8 L2329.5 1691.5 L2279.8 1711.2 L2339.0 1730.8 L2275.3 1750.5 L2330.0 1780.0 L2260.0 1801.0 L2783.0 1809.0" stroke="#cc483c" stroke-width="11.5" fill="none" stroke-linejoin="round" stroke-linecap="square"/>
<path d="M2248.9 196.8 L2249.6 216.5 L2249.4 236.2 L2249.2 255.8 L2249.8 275.5 L2249.5 295.2 L2249.6 314.8 L2249.3 334.5 L2249.3 354.2 L2249.4 373.8 L2248.8 393.5 L2249.9 413.2 L2249.8 432.8 L2248.7 452.5 L2249.6 472.2 L2250.2 491.8 L2249.7 511.5 L2250.3 531.2 L2249.4 550.8 L2249.6 570.5 L2248.8 590.2 L2249.0 609.8 L2248.4 629.5 L2249.1 649.2 L2249.9 668.8 L2250.2 688.5 L2250.7 708.2 L2250.1 727.8 L2249.3 747.5 L2250.4 767.2 L2250.1 786.8 L2251.6 806.5 L2251.8 826.2 L2251.1 845.8 L2249.4 865.5 L2250.0 885.2 L2250.8 904.8 L2249.8 924.5 L2251.5 944.2 L2252.1 963.8 L2252.6 983.5 L2252.0 1003.2 L2250.5 1022.8 L2251.0 1042.5 L2253.1 1062.2 L2257.4 1081.8 L2259.1 1101.5 L2259.0 1121.2 L2259.6 1140.8 L2263.5 1160.5 L2267.0 1180.2 L2272.7 1199.8 L2273.8 1219.5 L2259.4 1239.2 L2284.9 1258.8 L2285.6 1278.5 L2284.2 1298.2 L2305.5 1317.8 L2316.1 1337.5 L2327.9 1357.2 L2311.7 1376.8 L2346.3 1396.5 L2360.6 1416.2 L2356.3 1435.8 L2328.3 1455.5 L2363.1 1475.2 L2364.8 1494.8 L2349.3 1514.5 L2350.4 1534.2 L2326.6 1553.8 L2313.1 1573.5 L2340.7 1593.2 L2318.7 1612.8 L2335.5 1632.5 L2421.8 1652.2 L2348.4 1671.8 L2330.0 1694.0 L2302.0 1710.0 L3385.0 1727.6 L2330.0 1716.0 L2380.0 1735.0 L2350.0 1750.0 L2372.0 1766.0 L2110.0 1787.0 L2330.0 1797.0 L2420.0 1808.0 L2380.0 1828.0 L2410.0 1848.0 L2390.0 1870.0" stroke="#d74e41" stroke-width="11.5" fill="none" stroke-linejoin="round" stroke-linecap="square"/>
<path d="M2249.9 196.8 L2249.7 216.5 L2249.5 236.2 L2249.5 255.8 L2249.3 275.5 L2250.1 295.2 L2250.0 314.8 L2249.2 334.5 L2250.0 354.2 L2249.3 373.8 L2248.9 393.5 L2250.2 413.2 L2248.9 432.8 L2250.2 452.5 L2249.7 472.2 L2250.1 491.8 L2249.9 511.5 L2250.3 531.2 L2249.8 550.8 L2249.9 570.5 L2249.7 590.2 L2250.3 609.8 L2249.3 629.5 L2250.3 649.2 L2250.7 668.8 L2249.8 688.5 L2250.2 708.2 L2249.6 727.8 L2249.8 747.5 L2250.3 767.2 L2249.9 786.8 L2249.5 806.5 L2250.3 826.2 L2250.5 845.8 L2250.7 865.5 L2251.2 885.2 L2248.6 904.8 L2252.3 924.5 L2250.5 944.2 L2249.9 963.8 L2250.7 983.5 L2252.3 1003.2 L2253.5 1022.8 L2251.8 1042.5 L2253.6 1062.2 L2249.9 1081.8 L2255.0 1101.5 L2255.0 1121.2 L2255.9 1140.8 L2263.8 1160.5 L2271.5 1180.2 L2270.5 1199.8 L2261.2 1219.5 L2282.8 1239.2 L2271.6 1258.8 L2279.8 1278.5 L2279.7 1298.2 L2301.6 1317.8 L2314.7 1337.5 L2326.7 1357.2 L2333.1 1376.8 L2342.3 1396.5 L2341.0 1400.0 L2381.0 1416.5 L2338.0 1433.0 L2377.0 1455.0 L2341.0 1469.0 L2295.5 1494.0 L2317.6 1513.0 L2286.0 1535.0 L2283.0 1556.0 L2300.0 1575.0 L2275.0 1596.0 L2310.0 1614.0 L2290.0 1633.0 L2320.0 1652.0 L2258.0 1671.0 L2310.0 1690.0 L2340.0 1708.0 L2393.0 1724.0 L2542.0 1730.0 L2533.0 1751.0 L2096.0 1789.0 L2760.0 1812.0 L2857.0 1848.3 L2837.0 1870.0" stroke="#e35445" stroke-width="11.5" fill="none" stroke-linejoin="round" stroke-linecap="square"/>
<path d="M2249.5 196.8 L2249.7 216.5 L2250.1 236.2 L2249.1 255.8 L2248.7 275.5 L2249.8 295.2 L2249.4 314.8 L2249.5 334.5 L2249.4 354.2 L2249.2 373.8 L2249.8 393.5 L2250.0 413.2 L2249.8 432.8 L2249.3 452.5 L2250.1 472.2 L2249.5 491.8 L2249.9 511.5 L2249.1 531.2 L2250.0 550.8 L2250.0 570.5 L2250.4 590.2 L2249.6 609.8 L2249.9 629.5 L2249.3 649.2 L2250.4 668.8 L2250.4 688.5 L2250.7 708.2 L2249.7 727.8 L2249.2 747.5 L2250.1 767.2 L2250.1 786.8 L2249.7 806.5 L2250.9 826.2 L2251.2 845.8 L2250.9 865.5 L2251.7 885.2 L2251.1 904.8 L2249.6 924.5 L2250.2 944.2 L2250.8 963.8 L2252.6 983.5 L2253.4 1003.2 L2252.7 1022.8 L2255.3 1042.5 L2252.0 1062.2 L2254.4 1081.8 L2259.5 1101.5 L2258.5 1121.2 L2263.5 1140.8 L2253.6 1160.5 L2255.7 1180.2 L2261.7 1199.8 L2277.4 1219.5 L2287.5 1239.2 L2274.5 1258.8 L2276.3 1278.5 L2284.2 1298.2 L2295.5 1317.8 L2329.4 1337.5 L2334.0 1357.2 L2374.8 1376.8 L2367.6 1396.5 L2349.4 1413.8 L2368.7 1441.4 L2343.8 1462.1 L2354.9 1489.7 L2388.0 1514.6 L2341.1 1532.5 L2320.4 1551.8 L2279.0 1572.6 L2296.9 1593.3 L2290.0 1613.0 L2330.0 1633.0 L2375.0 1652.5 L2405.4 1670.7 L2387.2 1698.0 L2393.2 1713.2 L2411.4 1730.0 L2375.0 1749.7 L2387.2 1767.9 L2365.9 1789.1 L2405.4 1808.8 L2400.8 1831.6" stroke="#ee5a4a" stroke-width="11.5" fill="none" stroke-linejoin="round" stroke-linecap="square"/>
</g>
<rect x="2138.5" y="216.5" width="1222.0" height="1652.0" fill="none" stroke="#fff" stroke-width="5"/>
<path d="M2136.0 1789.8h-10M2136.0 1593.2h-10M2136.0 1396.5h-10M2136.0 1199.8h-10M2136.0 1003.2h-10M2136.0 806.5h-10M2136.0 609.8h-10M2136.0 413.2h-10M2136.0 216.5h-10M2249.6 1871.0v10M2471.8 1871.0v10M2694.0 1871.0v10M2916.1 1871.0v10M3138.3 1871.0v10M3360.5 1871.0v10" stroke="#fff" stroke-width="3.3" fill="none"/>
<g font-size="46.5" stroke="#fff" stroke-width="1" stroke-linejoin="round">
<text x="2114.5" y="1806.1" text-anchor="end">10</text>
<text x="2114.5" y="1609.5" text-anchor="end">15</text>
<text x="2114.5" y="1412.8" text-anchor="end">20</text>
<text x="2114.5" y="1216.1" text-anchor="end">25</text>
<text x="2114.5" y="1019.5" text-anchor="end">30</text>
<text x="2114.5" y="822.8" text-anchor="end">35</text>
<text x="2114.5" y="626.1" text-anchor="end">40</text>
<text x="2114.5" y="429.5" text-anchor="end">45</text>
<text x="2114.5" y="232.8" text-anchor="end">50</text>
<text x="2249.6" y="1926.8" text-anchor="middle" textLength="121" lengthAdjust="spacingAndGlyphs">0.000</text>
<text x="2471.8" y="1926.8" text-anchor="middle" textLength="121" lengthAdjust="spacingAndGlyphs">0.002</text>
<text x="2694.0" y="1926.8" text-anchor="middle" textLength="121" lengthAdjust="spacingAndGlyphs">0.004</text>
<text x="2916.1" y="1926.8" text-anchor="middle" textLength="121" lengthAdjust="spacingAndGlyphs">0.006</text>
<text x="3138.3" y="1926.8" text-anchor="middle" textLength="121" lengthAdjust="spacingAndGlyphs">0.008</text>
<text x="3360.5" y="1926.8" text-anchor="middle" textLength="121" lengthAdjust="spacingAndGlyphs">0.010</text>
</g>
<g stroke="#fff" stroke-width="1.2" stroke-linejoin="round">
<text transform="translate(2024.0 1233) rotate(-90)" font-size="61.5" textLength="380" lengthAdjust="spacingAndGlyphs">Altitude [km]</text>
<text x="2319.5" y="2001.3" font-size="61.5" textLength="214.0" lengthAdjust="spacingAndGlyphs">Aerosol</text>
<text x="2555.0" y="2001.3" font-size="61.5" textLength="287.0" lengthAdjust="spacingAndGlyphs">Extinction</text>
<text x="2861.0" y="2001.3" font-size="61.5" textLength="319.5" lengthAdjust="spacingAndGlyphs">Coefficient</text>
<text y="2077" font-size="61.5"><tspan x="2653.0">[</tspan><tspan x="2676.0" textLength="90" lengthAdjust="spacingAndGlyphs">km</tspan><tspan x="2771.5" y="2056" font-size="41" font-family='"Liberation Serif", serif' textLength="42" lengthAdjust="spacingAndGlyphs">−1</tspan><tspan x="2830.5" y="2077">]</tspan></text>
</g>
<g font-weight="bold" stroke="#fff" stroke-width="1.4" stroke-linejoin="round">
<text x="964.0" y="102.0" font-size="81.5" textLength="219.0" lengthAdjust="spacingAndGlyphs">SAGE</text>
<text y="102" font-size="81.5"><tspan x="1211" font-size="85" font-family='"Liberation Mono", monospace' textLength="130" lengthAdjust="spacingAndGlyphs">III</tspan><tspan x="1343" rotate="14">/</tspan><tspan x="1391" rotate="0" font-size="85" font-family='"Liberation Mono", monospace' textLength="43.5" lengthAdjust="spacingAndGlyphs">I</tspan><tspan x="1434" textLength="101" lengthAdjust="spacingAndGlyphs">SS</tspan></text>
<text x="1561.0" y="102.0" font-size="81.5" textLength="272.0" lengthAdjust="spacingAndGlyphs">520nm</text>
<text x="1858.0" y="102.0" font-size="81.5" textLength="305.0" lengthAdjust="spacingAndGlyphs">Aerosol</text>
<text x="2193.0" y="102.0" font-size="81.5" textLength="408.0" lengthAdjust="spacingAndGlyphs">Extinction</text>
<text x="2627.0" y="102.0" font-size="81.5" textLength="442.0" lengthAdjust="spacingAndGlyphs">Coefficient</text>
<text x="1678.0" y="190.5" font-size="81.5" textLength="90.0" lengthAdjust="spacingAndGlyphs">18</text>
<text x="1800.0" y="190.5" font-size="81.5" textLength="341.0" lengthAdjust="spacingAndGlyphs">January</text>
<text x="2166.0" y="190.5" font-size="81.5" textLength="189.0" lengthAdjust="spacingAndGlyphs">2023</text>
<text x="1158.0" y="196.0" font-size="63.5" textLength="250.0" lengthAdjust="spacingAndGlyphs">Sunrise</text>
<text x="2636.0" y="196.0" font-size="63.5" textLength="225.0" lengthAdjust="spacingAndGlyphs">Sunset</text>
</g>
<rect x="15" y="760" width="424" height="896" rx="7" ry="7" fill="#000" stroke="#a6a6a6" stroke-width="2.8"/>
<g font-size="39.2" stroke-width="0.85" stroke-linejoin="round">
<path d="M26.0 790.8h90" stroke="#04456f" stroke-width="10.5"/>
<text stroke="#fff" x="143.5" y="804.6" textLength="273.5" lengthAdjust="spacingAndGlyphs">2023011802SR</text>
<path d="M26.0 849.8h90" stroke="#044a76" stroke-width="10.5"/>
<text stroke="#fff" x="143.5" y="863.6" textLength="273.5" lengthAdjust="spacingAndGlyphs">2023011805SR</text>
<path d="M26.0 908.8h90" stroke="#03507d" stroke-width="10.5"/>
<text stroke="#fff" x="143.5" y="922.6" textLength="273.5" lengthAdjust="spacingAndGlyphs">2023011808SR</text>
<path d="M26.0 967.8h90" stroke="#035584" stroke-width="10.5"/>
<text stroke="#fff" x="143.5" y="981.6" textLength="267.5" lengthAdjust="spacingAndGlyphs">2023011811SR</text>
<path d="M26.0 1026.8h90" stroke="#035a8b" stroke-width="10.5"/>
<text stroke="#fff" x="143.5" y="1040.6" textLength="270.5" lengthAdjust="spacingAndGlyphs">2023011814SR</text>
<path d="M26.0 1085.8h90" stroke="#036092" stroke-width="10.5"/>
<text stroke="#fff" x="143.5" y="1099.6" textLength="270.5" lengthAdjust="spacingAndGlyphs">2023011817SR</text>
<path d="M26.0 1144.8h90" stroke="#026599" stroke-width="10.5"/>
<text stroke="#fff" x="143.5" y="1158.6" textLength="273.5" lengthAdjust="spacingAndGlyphs">2023011820SR</text>
<path d="M26.0 1203.8h90" stroke="#026aa0" stroke-width="10.5"/>
<text stroke="#fff" x="143.5" y="1217.6" textLength="273.5" lengthAdjust="spacingAndGlyphs">2023011823SR</text>
<path d="M26.0 1262.8h90" stroke="#0270a7" stroke-width="10.5"/>
<text stroke="#fff" x="143.5" y="1276.6" textLength="273.5" lengthAdjust="spacingAndGlyphs">2023011826SR</text>
<path d="M26.0 1321.8h90" stroke="#0175ae" stroke-width="10.5"/>
<text stroke="#fff" x="143.5" y="1335.6" textLength="273.5" lengthAdjust="spacingAndGlyphs">2023011829SR</text>
<path d="M26.0 1380.8h90" stroke="#017bb5" stroke-width="10.5"/>
<text stroke="#fff" x="143.5" y="1394.6" textLength="273.5" lengthAdjust="spacingAndGlyphs">2023011832SR</text>
<path d="M26.0 1439.8h90" stroke="#0180bc" stroke-width="10.5"/>
<text stroke="#fff" x="143.5" y="1453.6" textLength="273.5" lengthAdjust="spacingAndGlyphs">2023011835SR</text>
<path d="M26.0 1498.8h90" stroke="#0185c3" stroke-width="10.5"/>
<text stroke="#fff" x="143.5" y="1512.6" textLength="273.5" lengthAdjust="spacingAndGlyphs">2023011838SR</text>
<path d="M26.0 1557.8h90" stroke="#008bca" stroke-width="10.5"/>
<text stroke="#fff" x="143.5" y="1571.6" textLength="270.5" lengthAdjust="spacingAndGlyphs">2023011841SR</text>
<path d="M26.0 1616.8h90" stroke="#0090d1" stroke-width="10.5"/>
<text stroke="#fff" x="143.5" y="1630.6" textLength="273.5" lengthAdjust="spacingAndGlyphs">2023011844SR</text>
</g>
<rect x="3380.5" y="729.5" width="420.0" height="955.5" rx="7" ry="7" fill="#000" stroke="#a6a6a6" stroke-width="2.8"/>
<g font-size="39.2" stroke-width="0.85" stroke-linejoin="round">
<path d="M3391.5 761.0h90" stroke="#420205" stroke-width="10.5"/>
<text stroke="#fff" x="3509.0" y="774.8" textLength="268.5" lengthAdjust="spacingAndGlyphs">2023011801SS</text>
<path d="M3391.5 820.0h90" stroke="#4d080a" stroke-width="10.5"/>
<text stroke="#fff" x="3509.0" y="833.8" textLength="271.5" lengthAdjust="spacingAndGlyphs">2023011804SS</text>
<path d="M3391.5 878.9h90" stroke="#590e0e" stroke-width="10.5"/>
<text stroke="#fff" x="3509.0" y="892.7" textLength="271.5" lengthAdjust="spacingAndGlyphs">2023011807SS</text>
<path d="M3391.5 937.9h90" stroke="#641413" stroke-width="10.5"/>
<text stroke="#fff" x="3509.0" y="951.7" textLength="268.5" lengthAdjust="spacingAndGlyphs">2023011810SS</text>
<path d="M3391.5 996.9h90" stroke="#701917" stroke-width="10.5"/>
<text stroke="#fff" x="3509.0" y="1010.7" textLength="268.5" lengthAdjust="spacingAndGlyphs">2023011813SS</text>
<path d="M3391.5 1055.8h90" stroke="#7b1f1c" stroke-width="10.5"/>
<text stroke="#fff" x="3509.0" y="1069.6" textLength="268.5" lengthAdjust="spacingAndGlyphs">2023011816SS</text>
<path d="M3391.5 1114.8h90" stroke="#872521" stroke-width="10.5"/>
<text stroke="#fff" x="3509.0" y="1128.6" textLength="268.5" lengthAdjust="spacingAndGlyphs">2023011819SS</text>
<path d="M3391.5 1173.8h90" stroke="#922b25" stroke-width="10.5"/>
<text stroke="#fff" x="3509.0" y="1187.6" textLength="271.5" lengthAdjust="spacingAndGlyphs">2023011822SS</text>
<path d="M3391.5 1232.8h90" stroke="#9e312a" stroke-width="10.5"/>
<text stroke="#fff" x="3509.0" y="1246.6" textLength="271.5" lengthAdjust="spacingAndGlyphs">2023011825SS</text>
<path d="M3391.5 1291.7h90" stroke="#a9372e" stroke-width="10.5"/>
<text stroke="#fff" x="3509.0" y="1305.5" textLength="271.5" lengthAdjust="spacingAndGlyphs">2023011828SS</text>
<path d="M3391.5 1350.7h90" stroke="#b53d33" stroke-width="10.5"/>
<text stroke="#fff" x="3509.0" y="1364.5" textLength="268.5" lengthAdjust="spacingAndGlyphs">2023011831SS</text>
<path d="M3391.5 1409.7h90" stroke="#c04338" stroke-width="10.5"/>
<text stroke="#fff" x="3509.0" y="1423.5" textLength="271.5" lengthAdjust="spacingAndGlyphs">2023011834SS</text>
<path d="M3391.5 1468.6h90" stroke="#cc483c" stroke-width="10.5"/>
<text stroke="#fff" x="3509.0" y="1482.4" textLength="271.5" lengthAdjust="spacingAndGlyphs">2023011837SS</text>
<path d="M3391.5 1527.6h90" stroke="#d74e41" stroke-width="10.5"/>
<text stroke="#fff" x="3509.0" y="1541.4" textLength="271.5" lengthAdjust="spacingAndGlyphs">2023011840SS</text>
<path d="M3391.5 1586.6h90" stroke="#e35445" stroke-width="10.5"/>
<text stroke="#fff" x="3509.0" y="1600.4" textLength="271.5" lengthAdjust="spacingAndGlyphs">2023011843SS</text>
<path d="M3391.5 1645.5h90" stroke="#ee5a4a" stroke-width="10.5"/>
<text stroke="#fff" x="3509.0" y="1659.3" textLength="271.5" lengthAdjust="spacingAndGlyphs">2023011846SS</text>
</g>
<path d="M40 1980h80" stroke="#fff" stroke-width="10" stroke-dasharray="37 16" fill="none"/>
<path d="M40 2039.6h80" stroke="#fff" stroke-width="10" stroke-dasharray="10 16.5" fill="none"/>
<rect x="40.5" y="2085.5" width="80" height="28" fill="#696c71" stroke="#8d8f93" stroke-width="2.5"/>
<g font-size="39.5" stroke="#fff" stroke-width="0.85" stroke-linejoin="round">
<text x="153.0" y="1993.4" font-size="39.5" textLength="349.0" lengthAdjust="spacingAndGlyphs">Mean Tropopause</text>
<text x="153.0" y="2053.3" font-size="39.5" textLength="384.5" lengthAdjust="spacingAndGlyphs">Median Tropopause</text>
<text x="153.0" y="2112.9" font-size="39.5" textLength="367.5" lengthAdjust="spacingAndGlyphs">Tropopause Range</text>
</g>
<g font-size="32.5" fill="#8c8c8c" text-anchor="end" stroke="#8c8c8c" stroke-width="0.7" stroke-linejoin="round">
<text x="3839" y="2038.4" fill="#8c8c8c" textLength="572" lengthAdjust="spacingAndGlyphs">SAGE III/ISS Mission | NASA LaRC</text>
<text x="3839" y="2076.0" fill="#8c8c8c" textLength="526" lengthAdjust="spacingAndGlyphs">Preparer: Kevin R. Leavor (AMA)</text>
<text x="3839" y="2113.5" fill="#8c8c8c" textLength="450" lengthAdjust="spacingAndGlyphs">Generated 2025-07-17 22:25</text>
<text x="3839" y="2151.1" fill="#8c8c8c" textLength="305" lengthAdjust="spacingAndGlyphs">Data Version: 6.0.0</text>
</g>
<g id="logo">
<defs>
<clipPath id="lc"><circle cx="3662" cy="219.5" r="125.6"/></clipPath>
<clipPath id="lw"><circle cx="3662" cy="219.5" r="125.6"/><rect x="3492" y="95" width="128" height="158"/></clipPath>
<path id="arc" d="M3505.0 222.5 A157 157 0 0 0 3819.0 222.5" fill="none"/>
</defs>
<path d="M3494 222.5V54A36 36 0 0 1 3530 18H3794A36 36 0 0 1 3830 54V222.5A168 168.8 0 0 1 3494 222.5Z" fill="#e5594c"/>
<path d="M3500 222.5V54A30 30 0 0 1 3530 24H3794A30 30 0 0 1 3824 54V222.5A162 162.8 0 0 1 3500 222.5Z" fill="#0c4f87"/>
<circle cx="3662" cy="219.5" r="140.4" fill="#c9cedb"/>
<circle cx="3662" cy="219.5" r="125.6" fill="#0c4f87"/>
<g clip-path="url(#lc)">
<circle cx="3276" cy="539" r="513" fill="#1c70b1"/>
<circle cx="3276" cy="539" r="501" fill="#0c4f87" stroke="#e8f1fa" stroke-width="1.1"/>
<defs><clipPath id="le"><circle cx="3276" cy="539" r="500.4"/></clipPath></defs>
<g clip-path="url(#le)">
<path d="M3566.6 124.8 L3579.9 114.9 L3608.0 169.6 L3626.3 177.8 L3639.5 192.8 L3652.8 207.7 L3666.0 225.9 L3663.5 242.4 L3666.8 259.0 L3668.5 272.3 L3664.3 267.3 L3652.8 262.3 L3643.6 272.3 L3641.2 285.5 L3649.4 300.4 L3659.4 305.4 L3667.7 297.1 L3674.3 295.4 L3682.6 305.4 L3692.5 313.7 L3697.5 313.7 L3709.1 298.8 L3719.0 307.0 L3728.9 321.9 L3733.9 340.0 L3695.8 340.0 L3693.3 321.9 L3675.9 313.7 L3659.4 315.3 L3646.1 313.7 L3637.8 307.0 L3622.9 295.4 L3609.7 287.2 L3560.0 265.6Z" fill="#5ea46e"/>
<path d="M3620.5 199.4 L3626.3 206.0 L3631.2 202.7 L3637.8 207.7 L3646.1 206.0 L3650.3 214.3 L3642.8 215.9 L3641.2 225.9 L3635.4 227.5 L3632.9 217.6 L3626.3 215.9 L3622.1 214.3Z" fill="#0c4f87"/>
<path d="M3659.4 222.6 L3663.5 227.5 L3661.9 232.5 L3658.6 229.2Z" fill="#0c4f87"/>
<path d="M3609.7 290.5 L3629.6 303.7 L3627.9 307.0 L3609.7 297.1Z" fill="#5ea46e"/>
</g>
<path d="M3656.1 159.6L3715.7 191.9" stroke="#e8f1fa" stroke-width="1.2" fill="none"/>
<path d="M3646.1 167.1L3714.0 192.8" stroke="#e8f1fa" stroke-width="1.2" fill="none"/>
<path d="M3715.7 192.8L3670.1 226.7" stroke="#e8f1fa" stroke-width="1.2" fill="none"/>
<path d="M3715.7 193.6L3675.1 233.3" stroke="#e8f1fa" stroke-width="1.8" fill="none"/>
<path d="M3716.5 193.6L3723.1 258.2" stroke="#e8f1fa" stroke-width="1.2" fill="none"/>
<path d="M3716.5 193.6L3733.9 256.5" stroke="#e8f1fa" stroke-width="1.2" fill="none"/>
<path d="M3599.8 156.3L3634.9 186.5" stroke="#e8f1fa" stroke-width="1.0" fill="none"/>
<circle cx="3637.0" cy="144.7" r="23.4" fill="#fdfdfe"/>
<defs><clipPath id="lm"><circle cx="3637.0" cy="144.7" r="23.4"/></clipPath></defs>
<g clip-path="url(#lm)"><circle cx="3638.5" cy="138.7" r="21" fill="#cfd3db"/><circle cx="3646.0" cy="148.7" r="9" fill="#fdfdfe"/><circle cx="3633.0" cy="143.7" r="6.5" fill="#fdfdfe"/><circle cx="3643.0" cy="147.7" r="5" fill="#c3c7d0"/><circle cx="3632.0" cy="132.7" r="4" fill="#eef0f4"/></g>
<circle cx="3735.6" cy="280.5" r="23.4" fill="#c9cedb"/>
<defs><clipPath id="ls"><circle cx="3735.6" cy="280.5" r="23.4"/></clipPath></defs>
<circle cx="3739.6" cy="278.0" r="22.5" fill="#fddc97" clip-path="url(#ls)"/>
<path d="M3693.8 107.6 L3695.2 115.1 L3702.1 116.6 L3695.2 118.0 L3693.8 125.6 L3692.5 118.0 L3685.5 116.6 L3692.5 115.1Z" fill="#fff3d0"/>
<circle cx="3693.8" cy="116.6" r="2.2" fill="#fbd27a"/>
<path d="M3680.4 121.7 L3681.3 126.4 L3686.0 127.3 L3681.3 128.2 L3680.4 132.9 L3679.5 128.2 L3674.8 127.3 L3679.5 126.4Z" fill="#ffffff"/>
<path d="M3703.8 127.1 L3704.4 130.5 L3707.8 131.1 L3704.4 131.8 L3703.8 135.1 L3703.1 131.8 L3699.8 131.1 L3703.1 130.5Z" fill="#ffffff"/>
<g transform="translate(3714.4 165.6) rotate(-46)"><rect x="-17.5" y="-7.8" width="35.0" height="15.5" fill="#b9bcc2"/>
<path d="M-17.5 -5.81h35.0M-17.5 -3.88h35.0M-17.5 -1.94h35.0M-17.5 0.00h35.0M-17.5 1.94h35.0M-17.5 3.88h35.0M-17.5 5.81h35.0" stroke="#0c4f87" stroke-width="0.8" fill="none"/>
<path d="M-17.5 0h35.0" stroke="#0c4f87" stroke-width="2.2" fill="none"/>
</g>
<g transform="translate(3743.0 194.2) rotate(-46)"><rect x="-17.5" y="-7.8" width="35.0" height="15.5" fill="#b9bcc2"/>
<path d="M-17.5 -5.81h35.0M-17.5 -3.88h35.0M-17.5 -1.94h35.0M-17.5 0.00h35.0M-17.5 1.94h35.0M-17.5 3.88h35.0M-17.5 5.81h35.0" stroke="#0c4f87" stroke-width="0.8" fill="none"/>
<path d="M-17.5 0h35.0" stroke="#0c4f87" stroke-width="2.2" fill="none"/>
</g>
<path d="M3709.5 160.5L3748 199.5" stroke="#b9bcc2" stroke-width="2" fill="none"/>
<path d="M3722 186L3735 172M3718 181.5L3727 172M3727 190.5L3738.5 178.5M3716.5 192.5L3722 186" stroke="#b9bcc2" stroke-width="2.6" fill="none"/>
<path d="M3722 174.5L3735.5 188" stroke="#b9bcc2" stroke-width="3.2" fill="none"/>
</g>
<g clip-path="url(#lw)">
<path d="M3546.3 151.0 L3534.6 162.8 L3519.3 179.2 L3516.4 207.4 L3502.9 241.4 L3506.4 243.2 L3528.7 227.3 L3541.6 208.5 L3551.0 202.7 L3555.7 183.9 L3551.0 160.4Z" fill="#d8554a"/>
<path d="M3528.7 172.1 L3525.2 195.6 L3521.7 213.2 L3507.6 238.5 L3526.4 223.8 L3539.3 205.0 L3542.8 190.9 L3536.9 181.5Z" fill="#8b1d1a"/>
<path d="M3546.3 151.0 L3565.1 148.7 L3579.2 183.9 L3590.9 192.1 L3601.5 183.9 L3607.4 193.3 L3607.6 262.0 L3611.0 345.0 L3590.0 336.0 L3566.0 312.0 L3548.0 285.0 L3540.0 262.0 L3551.0 213.2 L3555.7 207.4 L3551.0 195.6 L3548.7 179.2Z" fill="#d8554a"/>
<path d="M3548.7 179.2 L3571.0 187.4 L3576.8 207.4 L3558.1 206.2 L3551.0 195.6Z" fill="#b03a33"/>
<path d="M3565.1 151.0 L3572.1 165.1 L3579.2 183.9 L3572.1 188.6 L3560.4 172.1 L3555.7 155.7Z" fill="#c4463e"/>
<path d="M3555.7 221.4 L3561.6 221.4 L3566.0 312.0 L3556.0 298.0 L3545.0 262.0Z" fill="#8b1d1a"/>
<path d="M3571.0 225.0 L3576.8 225.0 L3583.0 330.0 L3575.0 322.0Z" fill="#8b1d1a"/>
<path d="M3587.4 233.2 L3592.7 233.2 L3604.0 342.0 L3597.0 338.0Z" fill="#8b1d1a"/>
<path d="M3565.1 223.8 L3568.0 223.8 L3572.0 318.0 L3568.0 314.0Z" fill="#b03a33"/>
<path d="M3581.5 227.3 L3584.5 227.3 L3593.0 337.0 L3589.0 334.0Z" fill="#b03a33"/>
<path d="M3555.7 206.8Q3571.0 216.2 3587.4 219.1" stroke="#7a3b16" stroke-width="4.2" fill="none"/>
<path d="M3602.7 222.0 L3598.3 229.6 L3589.5 229.6 L3585.1 222.0 L3589.5 214.4 L3598.3 214.4Z" fill="#b9652a" stroke="#5f2c10" stroke-width="1.7"/>
<text x="3593.9" y="225.9" font-size="11" font-style="italic" font-weight="bold" text-anchor="middle" font-family='"Liberation Serif", serif' fill="#5f2c10">S</text>
<path d="M3600.3 166.3 L3607.4 165.1 L3617.3 172.1 L3610.9 192.1 L3602.7 187.4Z" fill="#6a2a12"/>
<path d="M3609.7 171.0 L3617.7 172.4 L3612.6 190.9 L3607.4 188.6Z" fill="#c07c3d"/>
<ellipse cx="3612.1" cy="183.9" rx="4.8" ry="7" fill="#dfa56c"/>
<path d="M3560.4 145.2 L3569.8 139.3 L3579.2 132.2 L3593.3 128.1 L3602.7 130.5 L3607.4 136.9 L3606.2 140.5 L3600.3 134.6 L3590.9 134.6 L3583.9 139.3 L3580.4 146.3 L3582.7 155.7 L3588.6 160.4 L3599.1 159.2 L3601.5 165.1 L3599.7 174.5 L3595.6 183.9 L3589.8 190.9 L3582.7 186.2 L3576.8 174.5 L3572.1 160.4 L3565.1 153.4Z" fill="#fbfbfb"/>
<path d="M3583.9 139.3 L3590.9 134.6 L3600.3 134.6 L3606.2 140.5 L3605.6 151.0 L3600.3 159.2 L3589.8 157.5 L3582.7 155.7 L3580.4 146.3Z" fill="#dca66b"/>
<path d="M3583.9 139.3 L3590.9 134.6 L3595.6 135.2 L3588.6 141.6 L3587.4 151.0 L3582.7 153.4 L3580.4 146.3Z" fill="#c88a52"/>
<path d="M3589.2 156.9 L3599.1 155.1 L3600.9 160.4 L3593.3 162.2Z" fill="#fbfbfb"/>
<path d="M3593.3 146.1L3602.1 148.7" stroke="#5b3a22" stroke-width="1.3" fill="none"/>
</g>
<path d="M3535.2 124.0L3541.6 174.5L3553.4 260.1Q3562 280 3561 292" stroke="#9a531d" stroke-width="4.6" fill="none"/>
<path d="M3536.5 124.0L3542.9 174.5L3554.7 260.1Q3563.3 280 3562.3 292" stroke="#dc9a45" stroke-width="1.3" fill="none"/>
<ellipse cx="3538.7" cy="183.9" rx="9.6" ry="11.5" fill="#dfa56c"/>
<path d="M3532.7 180.9h12M3532.7 185.4h12M3533.7 189.9h10" stroke="#b9793f" stroke-width="1" fill="none"/>
<circle cx="3532.8" cy="113.6" r="10.8" fill="#fdfdfe"/><circle cx="3534" cy="113" r="9" fill="#c9cedb"/>
<g font-family='"Liberation Serif", serif' font-weight="bold" font-size="42.5">
<text x="3527.5" y="58.8" textLength="109" lengthAdjust="spacingAndGlyphs">SAGE</text>
<text x="3651" y="58.8" textLength="50.5" lengthAdjust="spacingAndGlyphs">III</text>
<text x="3732" y="58.8" textLength="62" lengthAdjust="spacingAndGlyphs">ISS</text>
</g>
<circle cx="3716.2" cy="45.6" r="4.1" fill="#fff"/>
<g font-size="8.7" fill="#e6edf5">
<text x="3528" y="72.3" textLength="173" lengthAdjust="spacingAndGlyphs">Stratospheric Aerosol and Gas Experiment III</text>
<text x="3763.3" y="72.3" text-anchor="middle" textLength="53" lengthAdjust="spacingAndGlyphs">International</text>
<text x="3763.3" y="83.2" text-anchor="middle" textLength="60" lengthAdjust="spacingAndGlyphs">Space Station</text>
</g>
<text font-size="13.3" font-weight="bold" fill="#f2f6fb"><textPath href="#arc" startOffset="51.3%" text-anchor="middle" textLength="437" lengthAdjust="spacing">BALL • NASA LANGLEY RESEARCH CENTER • TAS-I • ESA</textPath></text>
</g>
</svg></body></html>
